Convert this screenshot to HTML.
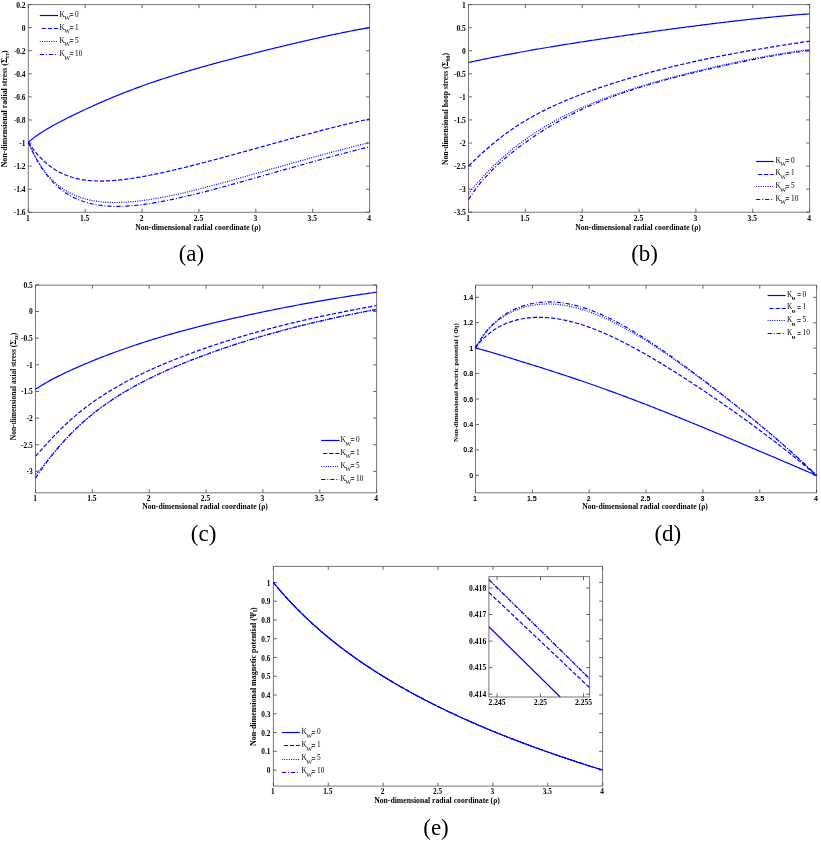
<!DOCTYPE html><html><head><meta charset="utf-8"><style>html,body{margin:0;padding:0;background:#fff;overflow:hidden;}svg{display:block;will-change:transform;filter:blur(0.3px);}</style></head><body><svg width="821" height="843" viewBox="0 0 821 843">
<rect width="821" height="843" fill="#fff"/>
<rect x="28.3" y="4.6" width="341.3" height="207.7" fill="none" stroke="#777" stroke-width="1"/>
<path d="M28.3,212.3v-3.5M28.3,4.6v3.5M85.18,212.3v-3.5M85.18,4.6v3.5M142.07,212.3v-3.5M142.07,4.6v3.5M198.95,212.3v-3.5M198.95,4.6v3.5M255.83,212.3v-3.5M255.83,4.6v3.5M312.72,212.3v-3.5M312.72,4.6v3.5M369.6,212.3v-3.5M369.6,4.6v3.5M28.3,4.6h3.5M369.6,4.6h-3.5M28.3,27.68h3.5M369.6,27.68h-3.5M28.3,50.76h3.5M369.6,50.76h-3.5M28.3,73.83h3.5M369.6,73.83h-3.5M28.3,96.91h3.5M369.6,96.91h-3.5M28.3,119.99h3.5M369.6,119.99h-3.5M28.3,143.07h3.5M369.6,143.07h-3.5M28.3,166.14h3.5M369.6,166.14h-3.5M28.3,189.22h3.5M369.6,189.22h-3.5M28.3,212.3h3.5M369.6,212.3h-3.5" stroke="#555" stroke-width="0.9" fill="none"/>
<text x="27.8" y="220.7" font-family='"Liberation Serif", serif' font-size="7.5" font-weight="bold" text-anchor="middle" >1</text>
<text x="84.68" y="220.7" font-family='"Liberation Serif", serif' font-size="7.5" font-weight="bold" text-anchor="middle" >1.5</text>
<text x="141.57" y="220.7" font-family='"Liberation Serif", serif' font-size="7.5" font-weight="bold" text-anchor="middle" >2</text>
<text x="198.45" y="220.7" font-family='"Liberation Serif", serif' font-size="7.5" font-weight="bold" text-anchor="middle" >2.5</text>
<text x="255.33" y="220.7" font-family='"Liberation Serif", serif' font-size="7.5" font-weight="bold" text-anchor="middle" >3</text>
<text x="312.22" y="220.7" font-family='"Liberation Serif", serif' font-size="7.5" font-weight="bold" text-anchor="middle" >3.5</text>
<text x="369.1" y="220.7" font-family='"Liberation Serif", serif' font-size="7.5" font-weight="bold" text-anchor="middle" >4</text>
<text x="25.6" y="7.5" font-family='"Liberation Serif", serif' font-size="7.5" font-weight="bold" text-anchor="end" >0.2</text>
<text x="25.6" y="30.58" font-family='"Liberation Serif", serif' font-size="7.5" font-weight="bold" text-anchor="end" >0</text>
<text x="25.6" y="53.66" font-family='"Liberation Serif", serif' font-size="7.5" font-weight="bold" text-anchor="end" >-0.2</text>
<text x="25.6" y="76.73" font-family='"Liberation Serif", serif' font-size="7.5" font-weight="bold" text-anchor="end" >-0.4</text>
<text x="25.6" y="99.81" font-family='"Liberation Serif", serif' font-size="7.5" font-weight="bold" text-anchor="end" >-0.6</text>
<text x="25.6" y="122.89" font-family='"Liberation Serif", serif' font-size="7.5" font-weight="bold" text-anchor="end" >-0.8</text>
<text x="25.6" y="145.97" font-family='"Liberation Serif", serif' font-size="7.5" font-weight="bold" text-anchor="end" >-1</text>
<text x="25.6" y="169.04" font-family='"Liberation Serif", serif' font-size="7.5" font-weight="bold" text-anchor="end" >-1.2</text>
<text x="25.6" y="192.12" font-family='"Liberation Serif", serif' font-size="7.5" font-weight="bold" text-anchor="end" >-1.4</text>
<text x="25.6" y="215.2" font-family='"Liberation Serif", serif' font-size="7.5" font-weight="bold" text-anchor="end" >-1.6</text>
<text x="198" y="229.9" font-family='"Liberation Serif", serif' font-size="7.7" font-weight="bold" text-anchor="middle" >Non-dimensional radial coordinate (ρ)</text>
<text transform="translate(7.3,108.9) rotate(-90)" font-family='"Liberation Serif", serif' font-size="7.85" font-weight="bold" text-anchor="middle">Non-dimensional radial stress (Σ<tspan font-size="5.5" dy="1.8">rr</tspan><tspan dy="-1.8">)</tspan></text>
<path d="M28.4,142.3 L29.83,141.05 L31.26,139.86 L32.68,138.72 L34.11,137.62 L35.54,136.56 L36.97,135.53 L38.39,134.54 L39.82,133.57 L41.25,132.64 L42.68,131.72 L44.1,130.83 L45.53,129.95 L46.96,129.1 L48.39,128.26 L49.81,127.43 L51.24,126.62 L52.67,125.82 L54.1,125.03 L55.52,124.25 L56.95,123.48 L58.38,122.72 L59.81,121.96 L61.24,121.22 L62.66,120.48 L64.09,119.74 L65.52,119.02 L66.95,118.3 L68.37,117.58 L69.8,116.87 L71.23,116.16 L72.66,115.46 L74.08,114.76 L75.51,114.07 L76.94,113.38 L78.37,112.7 L79.79,112.02 L81.22,111.34 L82.65,110.67 L84.08,110 L85.5,109.33 L86.93,108.67 L88.36,108.01 L89.79,107.36 L91.22,106.71 L92.64,106.06 L94.07,105.42 L95.5,104.78 L96.93,104.15 L98.35,103.52 L99.78,102.89 L101.21,102.26 L102.64,101.64 L104.06,101.03 L105.49,100.41 L106.92,99.81 L108.35,99.2 L109.77,98.6 L111.2,98 L112.63,97.41 L114.06,96.82 L115.48,96.23 L116.91,95.65 L118.34,95.07 L119.77,94.5 L121.19,93.93 L122.62,93.36 L124.05,92.8 L125.48,92.24 L126.91,91.68 L128.33,91.13 L129.76,90.58 L131.19,90.04 L132.62,89.5 L134.04,88.96 L135.47,88.43 L136.9,87.9 L138.33,87.37 L139.75,86.85 L141.18,86.33 L142.61,85.81 L144.04,85.3 L145.46,84.79 L146.89,84.29 L148.32,83.79 L149.75,83.29 L151.17,82.8 L152.6,82.3 L154.03,81.82 L155.46,81.33 L156.89,80.85 L158.31,80.37 L159.74,79.9 L161.17,79.42 L162.6,78.95 L164.02,78.49 L165.45,78.02 L166.88,77.56 L168.31,77.11 L169.73,76.65 L171.16,76.2 L172.59,75.75 L174.02,75.3 L175.44,74.86 L176.87,74.42 L178.3,73.98 L179.73,73.54 L181.15,73.11 L182.58,72.68 L184.01,72.25 L185.44,71.82 L186.87,71.4 L188.29,70.97 L189.72,70.55 L191.15,70.13 L192.58,69.72 L194,69.3 L195.43,68.89 L196.86,68.48 L198.29,68.07 L199.71,67.67 L201.14,67.26 L202.57,66.86 L204,66.46 L205.42,66.06 L206.85,65.66 L208.28,65.26 L209.71,64.87 L211.13,64.48 L212.56,64.08 L213.99,63.69 L215.42,63.31 L216.85,62.92 L218.27,62.53 L219.7,62.15 L221.13,61.76 L222.56,61.38 L223.98,61 L225.41,60.62 L226.84,60.24 L228.27,59.87 L229.69,59.49 L231.12,59.12 L232.55,58.74 L233.98,58.37 L235.4,58 L236.83,57.63 L238.26,57.26 L239.69,56.89 L241.11,56.52 L242.54,56.15 L243.97,55.79 L245.4,55.42 L246.83,55.06 L248.25,54.69 L249.68,54.33 L251.11,53.97 L252.54,53.61 L253.96,53.25 L255.39,52.89 L256.82,52.53 L258.25,52.17 L259.67,51.82 L261.1,51.46 L262.53,51.1 L263.96,50.75 L265.38,50.4 L266.81,50.04 L268.24,49.69 L269.67,49.34 L271.09,48.99 L272.52,48.64 L273.95,48.29 L275.38,47.94 L276.81,47.59 L278.23,47.24 L279.66,46.9 L281.09,46.55 L282.52,46.21 L283.94,45.86 L285.37,45.52 L286.8,45.18 L288.23,44.84 L289.65,44.5 L291.08,44.16 L292.51,43.82 L293.94,43.48 L295.36,43.14 L296.79,42.8 L298.22,42.47 L299.65,42.14 L301.07,41.8 L302.5,41.47 L303.93,41.14 L305.36,40.81 L306.78,40.48 L308.21,40.15 L309.64,39.82 L311.07,39.5 L312.5,39.17 L313.92,38.85 L315.35,38.53 L316.78,38.21 L318.21,37.89 L319.63,37.57 L321.06,37.25 L322.49,36.94 L323.92,36.62 L325.34,36.31 L326.77,36 L328.2,35.69 L329.63,35.38 L331.05,35.08 L332.48,34.77 L333.91,34.47 L335.34,34.17 L336.76,33.87 L338.19,33.57 L339.62,33.28 L341.05,32.98 L342.48,32.69 L343.9,32.4 L345.33,32.11 L346.76,31.83 L348.19,31.55 L349.61,31.27 L351.04,30.99 L352.47,30.71 L353.9,30.44 L355.32,30.17 L356.75,29.9 L358.18,29.63 L359.61,29.37 L361.03,29.11 L362.46,28.85 L363.89,28.59 L365.32,28.34 L366.74,28.09 L368.17,27.84 L369.6,27.6" fill="none" stroke="#0000ff" stroke-width="1.2"  stroke-linejoin="round"/>
<path d="M28.4,142.3 L29.83,144.43 L31.26,146.47 L32.68,148.42 L34.11,150.29 L35.54,152.07 L36.97,153.78 L38.39,155.41 L39.82,156.97 L41.25,158.45 L42.68,159.87 L44.1,161.22 L45.53,162.51 L46.96,163.74 L48.39,164.9 L49.81,166.01 L51.24,167.07 L52.67,168.07 L54.1,169.02 L55.52,169.92 L56.95,170.78 L58.38,171.58 L59.81,172.35 L61.24,173.07 L62.66,173.75 L64.09,174.39 L65.52,174.99 L66.95,175.56 L68.37,176.09 L69.8,176.59 L71.23,177.05 L72.66,177.49 L74.08,177.89 L75.51,178.26 L76.94,178.61 L78.37,178.93 L79.79,179.22 L81.22,179.49 L82.65,179.73 L84.08,179.95 L85.5,180.15 L86.93,180.33 L88.36,180.48 L89.79,180.62 L91.22,180.73 L92.64,180.83 L94.07,180.91 L95.5,180.98 L96.93,181.02 L98.35,181.05 L99.78,181.07 L101.21,181.07 L102.64,181.06 L104.06,181.03 L105.49,180.99 L106.92,180.94 L108.35,180.87 L109.77,180.8 L111.2,180.71 L112.63,180.61 L114.06,180.5 L115.48,180.38 L116.91,180.25 L118.34,180.11 L119.77,179.96 L121.19,179.81 L122.62,179.64 L124.05,179.47 L125.48,179.29 L126.91,179.1 L128.33,178.9 L129.76,178.7 L131.19,178.49 L132.62,178.27 L134.04,178.05 L135.47,177.82 L136.9,177.59 L138.33,177.35 L139.75,177.1 L141.18,176.85 L142.61,176.59 L144.04,176.33 L145.46,176.07 L146.89,175.8 L148.32,175.52 L149.75,175.24 L151.17,174.96 L152.6,174.67 L154.03,174.38 L155.46,174.09 L156.89,173.79 L158.31,173.49 L159.74,173.18 L161.17,172.87 L162.6,172.56 L164.02,172.25 L165.45,171.93 L166.88,171.61 L168.31,171.29 L169.73,170.96 L171.16,170.63 L172.59,170.3 L174.02,169.97 L175.44,169.63 L176.87,169.29 L178.3,168.95 L179.73,168.61 L181.15,168.27 L182.58,167.92 L184.01,167.57 L185.44,167.22 L186.87,166.87 L188.29,166.51 L189.72,166.16 L191.15,165.8 L192.58,165.44 L194,165.08 L195.43,164.71 L196.86,164.35 L198.29,163.99 L199.71,163.62 L201.14,163.25 L202.57,162.88 L204,162.51 L205.42,162.14 L206.85,161.76 L208.28,161.39 L209.71,161.01 L211.13,160.64 L212.56,160.26 L213.99,159.88 L215.42,159.5 L216.85,159.12 L218.27,158.73 L219.7,158.35 L221.13,157.97 L222.56,157.58 L223.98,157.2 L225.41,156.81 L226.84,156.42 L228.27,156.03 L229.69,155.65 L231.12,155.26 L232.55,154.87 L233.98,154.48 L235.4,154.08 L236.83,153.69 L238.26,153.3 L239.69,152.91 L241.11,152.51 L242.54,152.12 L243.97,151.72 L245.4,151.33 L246.83,150.93 L248.25,150.54 L249.68,150.14 L251.11,149.75 L252.54,149.35 L253.96,148.95 L255.39,148.56 L256.82,148.16 L258.25,147.76 L259.67,147.36 L261.1,146.97 L262.53,146.57 L263.96,146.17 L265.38,145.77 L266.81,145.37 L268.24,144.98 L269.67,144.58 L271.09,144.18 L272.52,143.78 L273.95,143.39 L275.38,142.99 L276.81,142.59 L278.23,142.2 L279.66,141.8 L281.09,141.4 L282.52,141.01 L283.94,140.61 L285.37,140.22 L286.8,139.82 L288.23,139.43 L289.65,139.03 L291.08,138.64 L292.51,138.25 L293.94,137.86 L295.36,137.46 L296.79,137.07 L298.22,136.68 L299.65,136.29 L301.07,135.91 L302.5,135.52 L303.93,135.13 L305.36,134.75 L306.78,134.36 L308.21,133.98 L309.64,133.59 L311.07,133.21 L312.5,132.83 L313.92,132.45 L315.35,132.07 L316.78,131.7 L318.21,131.32 L319.63,130.94 L321.06,130.57 L322.49,130.2 L323.92,129.83 L325.34,129.46 L326.77,129.09 L328.2,128.73 L329.63,128.36 L331.05,128 L332.48,127.64 L333.91,127.28 L335.34,126.92 L336.76,126.56 L338.19,126.21 L339.62,125.86 L341.05,125.51 L342.48,125.16 L343.9,124.81 L345.33,124.47 L346.76,124.13 L348.19,123.79 L349.61,123.45 L351.04,123.12 L352.47,122.78 L353.9,122.45 L355.32,122.13 L356.75,121.8 L358.18,121.48 L359.61,121.16 L361.03,120.84 L362.46,120.53 L363.89,120.22 L365.32,119.91 L366.74,119.6 L368.17,119.3 L369.6,119" fill="none" stroke="#0000ff" stroke-width="1.2" stroke-dasharray="4.2 1.9" stroke-linejoin="round"/>
<path d="M28.4,142.3 L29.83,145.57 L31.26,148.67 L32.68,151.62 L34.11,154.41 L35.54,157.07 L36.97,159.59 L38.39,161.99 L39.82,164.26 L41.25,166.42 L42.68,168.48 L44.1,170.43 L45.53,172.29 L46.96,174.06 L48.39,175.73 L49.81,177.33 L51.24,178.85 L52.67,180.29 L54.1,181.66 L55.52,182.97 L56.95,184.2 L58.38,185.38 L59.81,186.5 L61.24,187.56 L62.66,188.57 L64.09,189.53 L65.52,190.43 L66.95,191.29 L68.37,192.11 L69.8,192.88 L71.23,193.61 L72.66,194.31 L74.08,194.96 L75.51,195.58 L76.94,196.16 L78.37,196.71 L79.79,197.23 L81.22,197.71 L82.65,198.17 L84.08,198.6 L85.5,199 L86.93,199.37 L88.36,199.72 L89.79,200.04 L91.22,200.34 L92.64,200.62 L94.07,200.87 L95.5,201.11 L96.93,201.32 L98.35,201.51 L99.78,201.69 L101.21,201.84 L102.64,201.98 L104.06,202.1 L105.49,202.21 L106.92,202.3 L108.35,202.37 L109.77,202.43 L111.2,202.47 L112.63,202.5 L114.06,202.51 L115.48,202.52 L116.91,202.51 L118.34,202.48 L119.77,202.45 L121.19,202.4 L122.62,202.34 L124.05,202.27 L125.48,202.19 L126.91,202.1 L128.33,202 L129.76,201.89 L131.19,201.77 L132.62,201.65 L134.04,201.51 L135.47,201.36 L136.9,201.21 L138.33,201.05 L139.75,200.88 L141.18,200.7 L142.61,200.51 L144.04,200.32 L145.46,200.12 L146.89,199.91 L148.32,199.7 L149.75,199.48 L151.17,199.25 L152.6,199.02 L154.03,198.78 L155.46,198.54 L156.89,198.29 L158.31,198.04 L159.74,197.78 L161.17,197.51 L162.6,197.24 L164.02,196.97 L165.45,196.69 L166.88,196.4 L168.31,196.11 L169.73,195.82 L171.16,195.52 L172.59,195.22 L174.02,194.92 L175.44,194.61 L176.87,194.29 L178.3,193.98 L179.73,193.66 L181.15,193.33 L182.58,193 L184.01,192.67 L185.44,192.34 L186.87,192 L188.29,191.66 L189.72,191.32 L191.15,190.98 L192.58,190.63 L194,190.28 L195.43,189.92 L196.86,189.57 L198.29,189.21 L199.71,188.85 L201.14,188.49 L202.57,188.12 L204,187.75 L205.42,187.39 L206.85,187.01 L208.28,186.64 L209.71,186.27 L211.13,185.89 L212.56,185.51 L213.99,185.13 L215.42,184.75 L216.85,184.37 L218.27,183.98 L219.7,183.6 L221.13,183.21 L222.56,182.82 L223.98,182.43 L225.41,182.04 L226.84,181.65 L228.27,181.25 L229.69,180.86 L231.12,180.46 L232.55,180.07 L233.98,179.67 L235.4,179.27 L236.83,178.87 L238.26,178.47 L239.69,178.07 L241.11,177.67 L242.54,177.27 L243.97,176.87 L245.4,176.46 L246.83,176.06 L248.25,175.66 L249.68,175.25 L251.11,174.85 L252.54,174.44 L253.96,174.04 L255.39,173.63 L256.82,173.22 L258.25,172.82 L259.67,172.41 L261.1,172 L262.53,171.6 L263.96,171.19 L265.38,170.78 L266.81,170.38 L268.24,169.97 L269.67,169.56 L271.09,169.16 L272.52,168.75 L273.95,168.34 L275.38,167.93 L276.81,167.53 L278.23,167.12 L279.66,166.72 L281.09,166.31 L282.52,165.9 L283.94,165.5 L285.37,165.09 L286.8,164.69 L288.23,164.29 L289.65,163.88 L291.08,163.48 L292.51,163.08 L293.94,162.67 L295.36,162.27 L296.79,161.87 L298.22,161.47 L299.65,161.07 L301.07,160.67 L302.5,160.27 L303.93,159.87 L305.36,159.47 L306.78,159.08 L308.21,158.68 L309.64,158.28 L311.07,157.89 L312.5,157.5 L313.92,157.1 L315.35,156.71 L316.78,156.32 L318.21,155.93 L319.63,155.54 L321.06,155.15 L322.49,154.76 L323.92,154.37 L325.34,153.98 L326.77,153.6 L328.2,153.21 L329.63,152.83 L331.05,152.44 L332.48,152.06 L333.91,151.68 L335.34,151.3 L336.76,150.92 L338.19,150.54 L339.62,150.16 L341.05,149.79 L342.48,149.41 L343.9,149.04 L345.33,148.67 L346.76,148.29 L348.19,147.92 L349.61,147.55 L351.04,147.18 L352.47,146.82 L353.9,146.45 L355.32,146.09 L356.75,145.72 L358.18,145.36 L359.61,145 L361.03,144.64 L362.46,144.28 L363.89,143.92 L365.32,143.56 L366.74,143.21 L368.17,142.85 L369.6,142.5" fill="none" stroke="#0000ff" stroke-width="1.2" stroke-dasharray="1 1.3" stroke-linejoin="round"/>
<path d="M28.4,142.3 L29.83,145.64 L31.26,148.82 L32.68,151.85 L34.11,154.74 L35.54,157.48 L36.97,160.1 L38.39,162.59 L39.82,164.96 L41.25,167.22 L42.68,169.38 L44.1,171.43 L45.53,173.39 L46.96,175.25 L48.39,177.03 L49.81,178.72 L51.24,180.34 L52.67,181.87 L54.1,183.34 L55.52,184.73 L56.95,186.06 L58.38,187.33 L59.81,188.53 L61.24,189.68 L62.66,190.76 L64.09,191.8 L65.52,192.79 L66.95,193.72 L68.37,194.61 L69.8,195.45 L71.23,196.25 L72.66,197.01 L74.08,197.73 L75.51,198.41 L76.94,199.05 L78.37,199.66 L79.79,200.23 L81.22,200.77 L82.65,201.28 L84.08,201.75 L85.5,202.2 L86.93,202.62 L88.36,203.01 L89.79,203.38 L91.22,203.72 L92.64,204.03 L94.07,204.33 L95.5,204.6 L96.93,204.84 L98.35,205.07 L99.78,205.27 L101.21,205.46 L102.64,205.63 L104.06,205.77 L105.49,205.9 L106.92,206.02 L108.35,206.11 L109.77,206.19 L111.2,206.26 L112.63,206.31 L114.06,206.34 L115.48,206.36 L116.91,206.37 L118.34,206.36 L119.77,206.34 L121.19,206.31 L122.62,206.26 L124.05,206.21 L125.48,206.14 L126.91,206.06 L128.33,205.97 L129.76,205.87 L131.19,205.76 L132.62,205.64 L134.04,205.52 L135.47,205.38 L136.9,205.23 L138.33,205.08 L139.75,204.91 L141.18,204.74 L142.61,204.56 L144.04,204.38 L145.46,204.18 L146.89,203.98 L148.32,203.77 L149.75,203.56 L151.17,203.33 L152.6,203.11 L154.03,202.87 L155.46,202.63 L156.89,202.38 L158.31,202.13 L159.74,201.88 L161.17,201.61 L162.6,201.35 L164.02,201.07 L165.45,200.8 L166.88,200.51 L168.31,200.23 L169.73,199.94 L171.16,199.64 L172.59,199.34 L174.02,199.04 L175.44,198.73 L176.87,198.42 L178.3,198.1 L179.73,197.78 L181.15,197.46 L182.58,197.14 L184.01,196.81 L185.44,196.47 L186.87,196.14 L188.29,195.8 L189.72,195.46 L191.15,195.12 L192.58,194.77 L194,194.42 L195.43,194.07 L196.86,193.72 L198.29,193.36 L199.71,193 L201.14,192.64 L202.57,192.28 L204,191.91 L205.42,191.55 L206.85,191.18 L208.28,190.81 L209.71,190.43 L211.13,190.06 L212.56,189.68 L213.99,189.3 L215.42,188.93 L216.85,188.55 L218.27,188.16 L219.7,187.78 L221.13,187.39 L222.56,187.01 L223.98,186.62 L225.41,186.23 L226.84,185.84 L228.27,185.45 L229.69,185.06 L231.12,184.67 L232.55,184.28 L233.98,183.88 L235.4,183.49 L236.83,183.09 L238.26,182.69 L239.69,182.3 L241.11,181.9 L242.54,181.5 L243.97,181.1 L245.4,180.7 L246.83,180.3 L248.25,179.9 L249.68,179.5 L251.11,179.09 L252.54,178.69 L253.96,178.29 L255.39,177.89 L256.82,177.48 L258.25,177.08 L259.67,176.68 L261.1,176.27 L262.53,175.87 L263.96,175.47 L265.38,175.06 L266.81,174.66 L268.24,174.25 L269.67,173.85 L271.09,173.45 L272.52,173.04 L273.95,172.64 L275.38,172.23 L276.81,171.83 L278.23,171.43 L279.66,171.02 L281.09,170.62 L282.52,170.22 L283.94,169.81 L285.37,169.41 L286.8,169.01 L288.23,168.61 L289.65,168.2 L291.08,167.8 L292.51,167.4 L293.94,167 L295.36,166.6 L296.79,166.2 L298.22,165.8 L299.65,165.4 L301.07,165 L302.5,164.61 L303.93,164.21 L305.36,163.81 L306.78,163.41 L308.21,163.02 L309.64,162.62 L311.07,162.23 L312.5,161.83 L313.92,161.44 L315.35,161.05 L316.78,160.66 L318.21,160.26 L319.63,159.87 L321.06,159.48 L322.49,159.09 L323.92,158.7 L325.34,158.32 L326.77,157.93 L328.2,157.54 L329.63,157.16 L331.05,156.77 L332.48,156.39 L333.91,156 L335.34,155.62 L336.76,155.24 L338.19,154.86 L339.62,154.48 L341.05,154.1 L342.48,153.72 L343.9,153.34 L345.33,152.96 L346.76,152.59 L348.19,152.21 L349.61,151.84 L351.04,151.46 L352.47,151.09 L353.9,150.72 L355.32,150.35 L356.75,149.98 L358.18,149.61 L359.61,149.24 L361.03,148.88 L362.46,148.51 L363.89,148.15 L365.32,147.78 L366.74,147.42 L368.17,147.06 L369.6,146.7" fill="none" stroke="#0000ff" stroke-width="1.2" stroke-dasharray="4.2 1.9 1 1.9" stroke-linejoin="round"/>
<path d="M39.8,15.5H58.1" stroke="#0000ff" stroke-width="1.2"  fill="none"/>
<text font-family='"Liberation Serif", serif' font-size="7.3" y="16.7"><tspan x="59.6">K</tspan><tspan x="64.3" dy="3.6" font-size="6.2" font-weight="normal">W</tspan><tspan x="75.1" dy="-3.6">0</tspan></text>
<path d="M69.8,13.5h3.5M69.8,15.5h3.5" stroke="#222" stroke-width="0.8" fill="none"/>
<path d="M39.8,28.5H58.1" stroke="#0000ff" stroke-width="1.2" stroke-dasharray="4.2 1.9" stroke-dashoffset="4.2" fill="none"/>
<text font-family='"Liberation Serif", serif' font-size="7.3" y="29.77"><tspan x="59.6">K</tspan><tspan x="64.3" dy="3.6" font-size="6.2" font-weight="normal">W</tspan><tspan x="75.1" dy="-3.6">1</tspan></text>
<path d="M69.8,26.5h3.5M69.8,28.5h3.5" stroke="#222" stroke-width="0.8" fill="none"/>
<path d="M39.8,41.5H58.1" stroke="#0000ff" stroke-width="1.2" stroke-dasharray="1 1.3" fill="none"/>
<text font-family='"Liberation Serif", serif' font-size="7.3" y="42.84"><tspan x="59.6">K</tspan><tspan x="64.3" dy="3.6" font-size="6.2" font-weight="normal">W</tspan><tspan x="75.1" dy="-3.6">5</tspan></text>
<path d="M69.8,39.5h3.5M69.8,41.5h3.5" stroke="#222" stroke-width="0.8" fill="none"/>
<path d="M39.8,54.5H58.1" stroke="#0000ff" stroke-width="1.2" stroke-dasharray="4.2 1.9 1 1.9" fill="none"/>
<text font-family='"Liberation Serif", serif' font-size="7.3" y="55.91"><tspan x="59.6">K</tspan><tspan x="64.3" dy="3.6" font-size="6.2" font-weight="normal">W</tspan><tspan x="75.1" dy="-3.6">10</tspan></text>
<path d="M69.8,52.5h3.5M69.8,54.5h3.5" stroke="#222" stroke-width="0.8" fill="none"/>
<text x="191.45" y="261" font-family='"Liberation Serif", serif' font-size="23" font-weight="normal" text-anchor="middle" >(a)</text>
<rect x="468.5" y="4.6" width="341.1" height="207.6" fill="none" stroke="#777" stroke-width="1"/>
<path d="M468.5,212.2v-3.5M468.5,4.6v3.5M525.35,212.2v-3.5M525.35,4.6v3.5M582.2,212.2v-3.5M582.2,4.6v3.5M639.05,212.2v-3.5M639.05,4.6v3.5M695.9,212.2v-3.5M695.9,4.6v3.5M752.75,212.2v-3.5M752.75,4.6v3.5M809.6,212.2v-3.5M809.6,4.6v3.5M468.5,4.6h3.5M809.6,4.6h-3.5M468.5,27.67h3.5M809.6,27.67h-3.5M468.5,50.73h3.5M809.6,50.73h-3.5M468.5,73.8h3.5M809.6,73.8h-3.5M468.5,96.87h3.5M809.6,96.87h-3.5M468.5,119.93h3.5M809.6,119.93h-3.5M468.5,143h3.5M809.6,143h-3.5M468.5,166.07h3.5M809.6,166.07h-3.5M468.5,189.13h3.5M809.6,189.13h-3.5M468.5,212.2h3.5M809.6,212.2h-3.5" stroke="#555" stroke-width="0.9" fill="none"/>
<text x="468" y="220.7" font-family='"Liberation Serif", serif' font-size="7.5" font-weight="bold" text-anchor="middle" >1</text>
<text x="524.85" y="220.7" font-family='"Liberation Serif", serif' font-size="7.5" font-weight="bold" text-anchor="middle" >1.5</text>
<text x="581.7" y="220.7" font-family='"Liberation Serif", serif' font-size="7.5" font-weight="bold" text-anchor="middle" >2</text>
<text x="638.55" y="220.7" font-family='"Liberation Serif", serif' font-size="7.5" font-weight="bold" text-anchor="middle" >2.5</text>
<text x="695.4" y="220.7" font-family='"Liberation Serif", serif' font-size="7.5" font-weight="bold" text-anchor="middle" >3</text>
<text x="752.25" y="220.7" font-family='"Liberation Serif", serif' font-size="7.5" font-weight="bold" text-anchor="middle" >3.5</text>
<text x="809.1" y="220.7" font-family='"Liberation Serif", serif' font-size="7.5" font-weight="bold" text-anchor="middle" >4</text>
<text x="465.8" y="7.5" font-family='"Liberation Serif", serif' font-size="7.5" font-weight="bold" text-anchor="end" >1</text>
<text x="465.8" y="30.57" font-family='"Liberation Serif", serif' font-size="7.5" font-weight="bold" text-anchor="end" >0.5</text>
<text x="465.8" y="53.63" font-family='"Liberation Serif", serif' font-size="7.5" font-weight="bold" text-anchor="end" >0</text>
<text x="465.8" y="76.7" font-family='"Liberation Serif", serif' font-size="7.5" font-weight="bold" text-anchor="end" >-0.5</text>
<text x="465.8" y="99.77" font-family='"Liberation Serif", serif' font-size="7.5" font-weight="bold" text-anchor="end" >-1</text>
<text x="465.8" y="122.83" font-family='"Liberation Serif", serif' font-size="7.5" font-weight="bold" text-anchor="end" >-1.5</text>
<text x="465.8" y="145.9" font-family='"Liberation Serif", serif' font-size="7.5" font-weight="bold" text-anchor="end" >-2</text>
<text x="465.8" y="168.97" font-family='"Liberation Serif", serif' font-size="7.5" font-weight="bold" text-anchor="end" >-2.5</text>
<text x="465.8" y="192.03" font-family='"Liberation Serif", serif' font-size="7.5" font-weight="bold" text-anchor="end" >-3</text>
<text x="465.8" y="215.1" font-family='"Liberation Serif", serif' font-size="7.5" font-weight="bold" text-anchor="end" >-3.5</text>
<text x="638" y="229.8" font-family='"Liberation Serif", serif' font-size="7.7" font-weight="bold" text-anchor="middle" >Non-dimensional radial coordinate (ρ)</text>
<text transform="translate(448.3,109) rotate(-90)" font-family='"Liberation Serif", serif' font-size="7.7" font-weight="bold" text-anchor="middle">Non-dimensional hoop stress (Σ<tspan font-size="5.5" dy="1.8">θθ</tspan><tspan dy="-1.8">)</tspan></text>
<path d="M468.6,62.5 L470.03,62.18 L471.45,61.87 L472.88,61.56 L474.31,61.25 L475.73,60.94 L477.16,60.64 L478.59,60.34 L480.01,60.04 L481.44,59.74 L482.87,59.45 L484.29,59.15 L485.72,58.86 L487.15,58.57 L488.57,58.28 L490,58 L491.43,57.71 L492.86,57.43 L494.28,57.14 L495.71,56.86 L497.14,56.58 L498.56,56.3 L499.99,56.02 L501.42,55.75 L502.84,55.47 L504.27,55.2 L505.7,54.93 L507.12,54.65 L508.55,54.38 L509.98,54.12 L511.4,53.85 L512.83,53.58 L514.26,53.31 L515.68,53.05 L517.11,52.79 L518.54,52.52 L519.96,52.26 L521.39,52 L522.82,51.74 L524.24,51.49 L525.67,51.23 L527.1,50.97 L528.52,50.72 L529.95,50.47 L531.38,50.21 L532.81,49.96 L534.23,49.71 L535.66,49.46 L537.09,49.21 L538.51,48.97 L539.94,48.72 L541.37,48.48 L542.79,48.23 L544.22,47.99 L545.65,47.75 L547.07,47.51 L548.5,47.27 L549.93,47.03 L551.35,46.79 L552.78,46.55 L554.21,46.31 L555.63,46.08 L557.06,45.84 L558.49,45.61 L559.91,45.38 L561.34,45.14 L562.77,44.91 L564.19,44.68 L565.62,44.45 L567.05,44.22 L568.47,44 L569.9,43.77 L571.33,43.54 L572.75,43.32 L574.18,43.09 L575.61,42.87 L577.04,42.64 L578.46,42.42 L579.89,42.2 L581.32,41.98 L582.74,41.76 L584.17,41.54 L585.6,41.32 L587.02,41.1 L588.45,40.88 L589.88,40.66 L591.3,40.44 L592.73,40.23 L594.16,40.01 L595.58,39.8 L597.01,39.58 L598.44,39.37 L599.86,39.16 L601.29,38.94 L602.72,38.73 L604.14,38.52 L605.57,38.31 L607,38.1 L608.42,37.89 L609.85,37.68 L611.28,37.47 L612.7,37.26 L614.13,37.05 L615.56,36.84 L616.98,36.64 L618.41,36.43 L619.84,36.22 L621.27,36.02 L622.69,35.81 L624.12,35.61 L625.55,35.4 L626.97,35.2 L628.4,34.99 L629.83,34.79 L631.25,34.59 L632.68,34.39 L634.11,34.18 L635.53,33.98 L636.96,33.78 L638.39,33.58 L639.81,33.38 L641.24,33.18 L642.67,32.98 L644.09,32.78 L645.52,32.58 L646.95,32.38 L648.37,32.18 L649.8,31.99 L651.23,31.79 L652.65,31.59 L654.08,31.4 L655.51,31.2 L656.93,31 L658.36,30.81 L659.79,30.61 L661.22,30.42 L662.64,30.22 L664.07,30.03 L665.5,29.84 L666.92,29.64 L668.35,29.45 L669.78,29.26 L671.2,29.07 L672.63,28.88 L674.06,28.69 L675.48,28.49 L676.91,28.3 L678.34,28.11 L679.76,27.93 L681.19,27.74 L682.62,27.55 L684.04,27.36 L685.47,27.17 L686.9,26.99 L688.32,26.8 L689.75,26.61 L691.18,26.43 L692.6,26.24 L694.03,26.06 L695.46,25.87 L696.88,25.69 L698.31,25.51 L699.74,25.33 L701.16,25.14 L702.59,24.96 L704.02,24.78 L705.45,24.6 L706.87,24.42 L708.3,24.24 L709.73,24.07 L711.15,23.89 L712.58,23.71 L714.01,23.53 L715.43,23.36 L716.86,23.18 L718.29,23.01 L719.71,22.83 L721.14,22.66 L722.57,22.49 L723.99,22.32 L725.42,22.15 L726.85,21.98 L728.27,21.81 L729.7,21.64 L731.13,21.47 L732.55,21.3 L733.98,21.14 L735.41,20.97 L736.83,20.81 L738.26,20.64 L739.69,20.48 L741.11,20.32 L742.54,20.16 L743.97,20 L745.39,19.84 L746.82,19.68 L748.25,19.52 L749.68,19.36 L751.1,19.21 L752.53,19.05 L753.96,18.9 L755.38,18.75 L756.81,18.6 L758.24,18.45 L759.66,18.3 L761.09,18.15 L762.52,18 L763.94,17.86 L765.37,17.71 L766.8,17.57 L768.22,17.42 L769.65,17.28 L771.08,17.14 L772.5,17 L773.93,16.87 L775.36,16.73 L776.78,16.6 L778.21,16.46 L779.64,16.33 L781.06,16.2 L782.49,16.07 L783.92,15.94 L785.34,15.82 L786.77,15.69 L788.2,15.57 L789.63,15.44 L791.05,15.32 L792.48,15.2 L793.91,15.09 L795.33,14.97 L796.76,14.86 L798.19,14.74 L799.61,14.63 L801.04,14.52 L802.47,14.41 L803.89,14.31 L805.32,14.2 L806.75,14.1 L808.17,14 L809.6,13.9" fill="none" stroke="#0000ff" stroke-width="1.2"  stroke-linejoin="round"/>
<path d="M468.6,165.8 L470.03,164.47 L471.45,163.14 L472.88,161.8 L474.31,160.47 L475.73,159.13 L477.16,157.8 L478.59,156.47 L480.01,155.15 L481.44,153.84 L482.87,152.55 L484.29,151.26 L485.72,149.98 L487.15,148.72 L488.57,147.48 L490,146.24 L491.43,145.03 L492.86,143.82 L494.28,142.64 L495.71,141.47 L497.14,140.32 L498.56,139.18 L499.99,138.06 L501.42,136.95 L502.84,135.86 L504.27,134.79 L505.7,133.74 L507.12,132.7 L508.55,131.67 L509.98,130.66 L511.4,129.67 L512.83,128.69 L514.26,127.72 L515.68,126.77 L517.11,125.84 L518.54,124.92 L519.96,124.01 L521.39,123.11 L522.82,122.23 L524.24,121.37 L525.67,120.51 L527.1,119.67 L528.52,118.84 L529.95,118.02 L531.38,117.21 L532.81,116.41 L534.23,115.62 L535.66,114.85 L537.09,114.08 L538.51,113.33 L539.94,112.59 L541.37,111.85 L542.79,111.12 L544.22,110.41 L545.65,109.7 L547.07,109 L548.5,108.31 L549.93,107.63 L551.35,106.95 L552.78,106.29 L554.21,105.63 L555.63,104.98 L557.06,104.33 L558.49,103.7 L559.91,103.07 L561.34,102.44 L562.77,101.83 L564.19,101.22 L565.62,100.61 L567.05,100.02 L568.47,99.42 L569.9,98.84 L571.33,98.26 L572.75,97.68 L574.18,97.11 L575.61,96.55 L577.04,95.99 L578.46,95.44 L579.89,94.89 L581.32,94.34 L582.74,93.8 L584.17,93.27 L585.6,92.74 L587.02,92.21 L588.45,91.69 L589.88,91.17 L591.3,90.66 L592.73,90.15 L594.16,89.64 L595.58,89.14 L597.01,88.64 L598.44,88.15 L599.86,87.66 L601.29,87.17 L602.72,86.69 L604.14,86.21 L605.57,85.73 L607,85.26 L608.42,84.79 L609.85,84.32 L611.28,83.86 L612.7,83.4 L614.13,82.95 L615.56,82.49 L616.98,82.04 L618.41,81.6 L619.84,81.15 L621.27,80.71 L622.69,80.27 L624.12,79.84 L625.55,79.4 L626.97,78.97 L628.4,78.55 L629.83,78.12 L631.25,77.7 L632.68,77.28 L634.11,76.87 L635.53,76.46 L636.96,76.04 L638.39,75.64 L639.81,75.23 L641.24,74.83 L642.67,74.43 L644.09,74.03 L645.52,73.64 L646.95,73.24 L648.37,72.85 L649.8,72.47 L651.23,72.08 L652.65,71.7 L654.08,71.32 L655.51,70.94 L656.93,70.57 L658.36,70.19 L659.79,69.82 L661.22,69.45 L662.64,69.09 L664.07,68.72 L665.5,68.36 L666.92,68 L668.35,67.65 L669.78,67.29 L671.2,66.94 L672.63,66.59 L674.06,66.24 L675.48,65.9 L676.91,65.56 L678.34,65.21 L679.76,64.88 L681.19,64.54 L682.62,64.21 L684.04,63.87 L685.47,63.54 L686.9,63.22 L688.32,62.89 L689.75,62.57 L691.18,62.24 L692.6,61.92 L694.03,61.61 L695.46,61.29 L696.88,60.98 L698.31,60.67 L699.74,60.36 L701.16,60.05 L702.59,59.75 L704.02,59.44 L705.45,59.14 L706.87,58.84 L708.3,58.55 L709.73,58.25 L711.15,57.96 L712.58,57.66 L714.01,57.37 L715.43,57.09 L716.86,56.8 L718.29,56.52 L719.71,56.23 L721.14,55.95 L722.57,55.67 L723.99,55.4 L725.42,55.12 L726.85,54.85 L728.27,54.58 L729.7,54.31 L731.13,54.04 L732.55,53.77 L733.98,53.51 L735.41,53.24 L736.83,52.98 L738.26,52.72 L739.69,52.46 L741.11,52.2 L742.54,51.95 L743.97,51.69 L745.39,51.44 L746.82,51.19 L748.25,50.94 L749.68,50.69 L751.1,50.44 L752.53,50.2 L753.96,49.95 L755.38,49.71 L756.81,49.47 L758.24,49.22 L759.66,48.98 L761.09,48.75 L762.52,48.51 L763.94,48.27 L765.37,48.04 L766.8,47.8 L768.22,47.57 L769.65,47.34 L771.08,47.1 L772.5,46.87 L773.93,46.64 L775.36,46.42 L776.78,46.19 L778.21,45.96 L779.64,45.73 L781.06,45.51 L782.49,45.28 L783.92,45.06 L785.34,44.84 L786.77,44.61 L788.2,44.39 L789.63,44.17 L791.05,43.95 L792.48,43.73 L793.91,43.51 L795.33,43.29 L796.76,43.07 L798.19,42.85 L799.61,42.63 L801.04,42.41 L802.47,42.19 L803.89,41.97 L805.32,41.75 L806.75,41.54 L808.17,41.32 L809.6,41.1" fill="none" stroke="#0000ff" stroke-width="1.2" stroke-dasharray="4.2 1.9" stroke-linejoin="round"/>
<path d="M468.6,193.6 L470.03,191.8 L471.45,190.03 L472.88,188.29 L474.31,186.58 L475.73,184.9 L477.16,183.25 L478.59,181.62 L480.01,180.02 L481.44,178.44 L482.87,176.89 L484.29,175.36 L485.72,173.86 L487.15,172.37 L488.57,170.91 L490,169.47 L491.43,168.05 L492.86,166.65 L494.28,165.27 L495.71,163.91 L497.14,162.57 L498.56,161.25 L499.99,159.95 L501.42,158.66 L502.84,157.39 L504.27,156.14 L505.7,154.91 L507.12,153.69 L508.55,152.49 L509.98,151.3 L511.4,150.13 L512.83,148.98 L514.26,147.84 L515.68,146.72 L517.11,145.61 L518.54,144.52 L519.96,143.44 L521.39,142.37 L522.82,141.32 L524.24,140.29 L525.67,139.26 L527.1,138.25 L528.52,137.26 L529.95,136.27 L531.38,135.3 L532.81,134.34 L534.23,133.39 L535.66,132.46 L537.09,131.54 L538.51,130.63 L539.94,129.73 L541.37,128.84 L542.79,127.96 L544.22,127.1 L545.65,126.24 L547.07,125.4 L548.5,124.56 L549.93,123.74 L551.35,122.93 L552.78,122.12 L554.21,121.33 L555.63,120.55 L557.06,119.77 L558.49,119.01 L559.91,118.25 L561.34,117.5 L562.77,116.77 L564.19,116.04 L565.62,115.32 L567.05,114.6 L568.47,113.9 L569.9,113.2 L571.33,112.52 L572.75,111.84 L574.18,111.16 L575.61,110.5 L577.04,109.84 L578.46,109.19 L579.89,108.55 L581.32,107.91 L582.74,107.28 L584.17,106.66 L585.6,106.05 L587.02,105.44 L588.45,104.84 L589.88,104.24 L591.3,103.65 L592.73,103.07 L594.16,102.49 L595.58,101.92 L597.01,101.35 L598.44,100.79 L599.86,100.23 L601.29,99.68 L602.72,99.14 L604.14,98.6 L605.57,98.07 L607,97.54 L608.42,97.01 L609.85,96.49 L611.28,95.98 L612.7,95.47 L614.13,94.96 L615.56,94.46 L616.98,93.97 L618.41,93.47 L619.84,92.99 L621.27,92.5 L622.69,92.02 L624.12,91.55 L625.55,91.07 L626.97,90.61 L628.4,90.14 L629.83,89.68 L631.25,89.22 L632.68,88.77 L634.11,88.32 L635.53,87.87 L636.96,87.43 L638.39,86.99 L639.81,86.55 L641.24,86.12 L642.67,85.69 L644.09,85.26 L645.52,84.83 L646.95,84.41 L648.37,83.99 L649.8,83.57 L651.23,83.16 L652.65,82.75 L654.08,82.34 L655.51,81.93 L656.93,81.53 L658.36,81.13 L659.79,80.73 L661.22,80.33 L662.64,79.94 L664.07,79.55 L665.5,79.16 L666.92,78.77 L668.35,78.39 L669.78,78.01 L671.2,77.62 L672.63,77.25 L674.06,76.87 L675.48,76.5 L676.91,76.12 L678.34,75.75 L679.76,75.38 L681.19,75.02 L682.62,74.65 L684.04,74.29 L685.47,73.93 L686.9,73.57 L688.32,73.21 L689.75,72.86 L691.18,72.51 L692.6,72.15 L694.03,71.8 L695.46,71.46 L696.88,71.11 L698.31,70.76 L699.74,70.42 L701.16,70.08 L702.59,69.74 L704.02,69.4 L705.45,69.06 L706.87,68.73 L708.3,68.4 L709.73,68.06 L711.15,67.73 L712.58,67.41 L714.01,67.08 L715.43,66.75 L716.86,66.43 L718.29,66.11 L719.71,65.79 L721.14,65.47 L722.57,65.15 L723.99,64.84 L725.42,64.52 L726.85,64.21 L728.27,63.9 L729.7,63.59 L731.13,63.28 L732.55,62.98 L733.98,62.68 L735.41,62.37 L736.83,62.07 L738.26,61.77 L739.69,61.48 L741.11,61.18 L742.54,60.89 L743.97,60.6 L745.39,60.31 L746.82,60.02 L748.25,59.73 L749.68,59.45 L751.1,59.17 L752.53,58.88 L753.96,58.61 L755.38,58.33 L756.81,58.05 L758.24,57.78 L759.66,57.51 L761.09,57.24 L762.52,56.97 L763.94,56.71 L765.37,56.45 L766.8,56.19 L768.22,55.93 L769.65,55.67 L771.08,55.42 L772.5,55.16 L773.93,54.91 L775.36,54.67 L776.78,54.42 L778.21,54.18 L779.64,53.94 L781.06,53.7 L782.49,53.46 L783.92,53.23 L785.34,53 L786.77,52.77 L788.2,52.55 L789.63,52.32 L791.05,52.1 L792.48,51.89 L793.91,51.67 L795.33,51.46 L796.76,51.25 L798.19,51.04 L799.61,50.84 L801.04,50.64 L802.47,50.44 L803.89,50.25 L805.32,50.06 L806.75,49.87 L808.17,49.68 L809.6,49.5" fill="none" stroke="#0000ff" stroke-width="1.2" stroke-dasharray="1 1.3" stroke-linejoin="round"/>
<path d="M468.6,199.5 L470.03,197.21 L471.45,195.01 L472.88,192.91 L474.31,190.88 L475.73,188.92 L477.16,187.04 L478.59,185.21 L480.01,183.44 L481.44,181.73 L482.87,180.06 L484.29,178.44 L485.72,176.86 L487.15,175.32 L488.57,173.81 L490,172.34 L491.43,170.89 L492.86,169.48 L494.28,168.09 L495.71,166.73 L497.14,165.39 L498.56,164.08 L499.99,162.79 L501.42,161.51 L502.84,160.26 L504.27,159.02 L505.7,157.8 L507.12,156.6 L508.55,155.42 L509.98,154.25 L511.4,153.09 L512.83,151.95 L514.26,150.82 L515.68,149.71 L517.11,148.6 L518.54,147.52 L519.96,146.44 L521.39,145.38 L522.82,144.32 L524.24,143.28 L525.67,142.25 L527.1,141.23 L528.52,140.23 L529.95,139.23 L531.38,138.24 L532.81,137.27 L534.23,136.3 L535.66,135.35 L537.09,134.4 L538.51,133.47 L539.94,132.55 L541.37,131.63 L542.79,130.73 L544.22,129.83 L545.65,128.94 L547.07,128.07 L548.5,127.2 L549.93,126.34 L551.35,125.5 L552.78,124.66 L554.21,123.83 L555.63,123.01 L557.06,122.19 L558.49,121.39 L559.91,120.6 L561.34,119.81 L562.77,119.03 L564.19,118.26 L565.62,117.5 L567.05,116.75 L568.47,116.01 L569.9,115.27 L571.33,114.54 L572.75,113.82 L574.18,113.11 L575.61,112.41 L577.04,111.71 L578.46,111.03 L579.89,110.34 L581.32,109.67 L582.74,109.01 L584.17,108.35 L585.6,107.7 L587.02,107.05 L588.45,106.42 L589.88,105.79 L591.3,105.16 L592.73,104.55 L594.16,103.94 L595.58,103.33 L597.01,102.74 L598.44,102.15 L599.86,101.56 L601.29,100.98 L602.72,100.41 L604.14,99.85 L605.57,99.29 L607,98.73 L608.42,98.18 L609.85,97.64 L611.28,97.1 L612.7,96.57 L614.13,96.04 L615.56,95.52 L616.98,95.01 L618.41,94.5 L619.84,93.99 L621.27,93.49 L622.69,92.99 L624.12,92.5 L625.55,92.01 L626.97,91.53 L628.4,91.05 L629.83,90.58 L631.25,90.11 L632.68,89.65 L634.11,89.19 L635.53,88.73 L636.96,88.28 L638.39,87.83 L639.81,87.38 L641.24,86.94 L642.67,86.5 L644.09,86.07 L645.52,85.63 L646.95,85.21 L648.37,84.78 L649.8,84.36 L651.23,83.94 L652.65,83.53 L654.08,83.12 L655.51,82.71 L656.93,82.3 L658.36,81.9 L659.79,81.5 L661.22,81.1 L662.64,80.71 L664.07,80.32 L665.5,79.93 L666.92,79.54 L668.35,79.15 L669.78,78.77 L671.2,78.39 L672.63,78.01 L674.06,77.64 L675.48,77.27 L676.91,76.9 L678.34,76.53 L679.76,76.16 L681.19,75.79 L682.62,75.43 L684.04,75.07 L685.47,74.71 L686.9,74.36 L688.32,74 L689.75,73.65 L691.18,73.3 L692.6,72.95 L694.03,72.6 L695.46,72.25 L696.88,71.91 L698.31,71.56 L699.74,71.22 L701.16,70.88 L702.59,70.54 L704.02,70.21 L705.45,69.87 L706.87,69.54 L708.3,69.21 L709.73,68.88 L711.15,68.55 L712.58,68.22 L714.01,67.9 L715.43,67.57 L716.86,67.25 L718.29,66.93 L719.71,66.61 L721.14,66.29 L722.57,65.97 L723.99,65.66 L725.42,65.34 L726.85,65.03 L728.27,64.72 L729.7,64.41 L731.13,64.1 L732.55,63.8 L733.98,63.49 L735.41,63.19 L736.83,62.89 L738.26,62.59 L739.69,62.29 L741.11,62 L742.54,61.7 L743.97,61.41 L745.39,61.12 L746.82,60.83 L748.25,60.54 L749.68,60.25 L751.1,59.97 L752.53,59.69 L753.96,59.41 L755.38,59.13 L756.81,58.85 L758.24,58.58 L759.66,58.31 L761.09,58.04 L762.52,57.77 L763.94,57.51 L765.37,57.24 L766.8,56.98 L768.22,56.72 L769.65,56.47 L771.08,56.21 L772.5,55.96 L773.93,55.71 L775.36,55.47 L776.78,55.22 L778.21,54.98 L779.64,54.74 L781.06,54.51 L782.49,54.28 L783.92,54.05 L785.34,53.82 L786.77,53.6 L788.2,53.38 L789.63,53.16 L791.05,52.95 L792.48,52.74 L793.91,52.53 L795.33,52.33 L796.76,52.13 L798.19,51.93 L799.61,51.74 L801.04,51.55 L802.47,51.36 L803.89,51.18 L805.32,51.01 L806.75,50.83 L808.17,50.66 L809.6,50.5" fill="none" stroke="#0000ff" stroke-width="1.2" stroke-dasharray="4.2 1.9 1 1.9" stroke-linejoin="round"/>
<path d="M756.1,161.5H773.7" stroke="#0000ff" stroke-width="1.2"  fill="none"/>
<text font-family='"Liberation Serif", serif' font-size="7.3" y="162.6"><tspan x="775.5">K</tspan><tspan x="780.2" dy="3.6" font-size="6.2" font-weight="normal">W</tspan><tspan x="791" dy="-3.6">0</tspan></text>
<path d="M785.7,159.5h3.5M785.7,161.5h3.5" stroke="#222" stroke-width="0.8" fill="none"/>
<path d="M756.1,174.5H773.7" stroke="#0000ff" stroke-width="1.2" stroke-dasharray="4.2 1.9" stroke-dashoffset="4.2" fill="none"/>
<text font-family='"Liberation Serif", serif' font-size="7.3" y="175.3"><tspan x="775.5">K</tspan><tspan x="780.2" dy="3.6" font-size="6.2" font-weight="normal">W</tspan><tspan x="791" dy="-3.6">1</tspan></text>
<path d="M785.7,172.5h3.5M785.7,174.5h3.5" stroke="#222" stroke-width="0.8" fill="none"/>
<path d="M756.1,186.5H773.7" stroke="#0000ff" stroke-width="1.2" stroke-dasharray="1 1.3" fill="none"/>
<text font-family='"Liberation Serif", serif' font-size="7.3" y="188"><tspan x="775.5">K</tspan><tspan x="780.2" dy="3.6" font-size="6.2" font-weight="normal">W</tspan><tspan x="791" dy="-3.6">5</tspan></text>
<path d="M785.7,185.5h3.5M785.7,187.5h3.5" stroke="#222" stroke-width="0.8" fill="none"/>
<path d="M756.1,199.5H773.7" stroke="#0000ff" stroke-width="1.2" stroke-dasharray="4.2 1.9 1 1.9" fill="none"/>
<text font-family='"Liberation Serif", serif' font-size="7.3" y="200.7"><tspan x="775.5">K</tspan><tspan x="780.2" dy="3.6" font-size="6.2" font-weight="normal">W</tspan><tspan x="791" dy="-3.6">10</tspan></text>
<path d="M785.7,197.5h3.5M785.7,199.5h3.5" stroke="#222" stroke-width="0.8" fill="none"/>
<text x="644.55" y="261" font-family='"Liberation Serif", serif' font-size="23" font-weight="normal" text-anchor="middle" >(b)</text>
<rect x="35.5" y="285.2" width="341.1" height="207.6" fill="none" stroke="#777" stroke-width="1"/>
<path d="M35.5,492.8v-3.5M35.5,285.2v3.5M92.35,492.8v-3.5M92.35,285.2v3.5M149.2,492.8v-3.5M149.2,285.2v3.5M206.05,492.8v-3.5M206.05,285.2v3.5M262.9,492.8v-3.5M262.9,285.2v3.5M319.75,492.8v-3.5M319.75,285.2v3.5M376.6,492.8v-3.5M376.6,285.2v3.5M35.5,284.85h3.5M376.6,284.85h-3.5M35.5,311.5h3.5M376.6,311.5h-3.5M35.5,338.15h3.5M376.6,338.15h-3.5M35.5,364.8h3.5M376.6,364.8h-3.5M35.5,391.45h3.5M376.6,391.45h-3.5M35.5,418.1h3.5M376.6,418.1h-3.5M35.5,444.75h3.5M376.6,444.75h-3.5M35.5,471.4h3.5M376.6,471.4h-3.5" stroke="#555" stroke-width="0.9" fill="none"/>
<text x="35" y="500.7" font-family='"Liberation Serif", serif' font-size="7.5" font-weight="bold" text-anchor="middle" >1</text>
<text x="91.85" y="500.7" font-family='"Liberation Serif", serif' font-size="7.5" font-weight="bold" text-anchor="middle" >1.5</text>
<text x="148.7" y="500.7" font-family='"Liberation Serif", serif' font-size="7.5" font-weight="bold" text-anchor="middle" >2</text>
<text x="205.55" y="500.7" font-family='"Liberation Serif", serif' font-size="7.5" font-weight="bold" text-anchor="middle" >2.5</text>
<text x="262.4" y="500.7" font-family='"Liberation Serif", serif' font-size="7.5" font-weight="bold" text-anchor="middle" >3</text>
<text x="319.25" y="500.7" font-family='"Liberation Serif", serif' font-size="7.5" font-weight="bold" text-anchor="middle" >3.5</text>
<text x="376.1" y="500.7" font-family='"Liberation Serif", serif' font-size="7.5" font-weight="bold" text-anchor="middle" >4</text>
<text x="32.8" y="287.75" font-family='"Liberation Serif", serif' font-size="7.5" font-weight="bold" text-anchor="end" >0.5</text>
<text x="32.8" y="314.4" font-family='"Liberation Serif", serif' font-size="7.5" font-weight="bold" text-anchor="end" >0</text>
<text x="32.8" y="341.05" font-family='"Liberation Serif", serif' font-size="7.5" font-weight="bold" text-anchor="end" >-0.5</text>
<text x="32.8" y="367.7" font-family='"Liberation Serif", serif' font-size="7.5" font-weight="bold" text-anchor="end" >-1</text>
<text x="32.8" y="394.35" font-family='"Liberation Serif", serif' font-size="7.5" font-weight="bold" text-anchor="end" >-1.5</text>
<text x="32.8" y="421" font-family='"Liberation Serif", serif' font-size="7.5" font-weight="bold" text-anchor="end" >-2</text>
<text x="32.8" y="447.65" font-family='"Liberation Serif", serif' font-size="7.5" font-weight="bold" text-anchor="end" >-2.5</text>
<text x="32.8" y="474.3" font-family='"Liberation Serif", serif' font-size="7.5" font-weight="bold" text-anchor="end" >-3</text>
<text x="205" y="509.4" font-family='"Liberation Serif", serif' font-size="7.7" font-weight="bold" text-anchor="middle" >Non-dimensional radial coordinate (ρ)</text>
<text transform="translate(16,386.5) rotate(-90)" font-family='"Liberation Serif", serif' font-size="7.47" font-weight="bold" text-anchor="middle">Non-dimensional axial stress (Σ<tspan font-size="5.2" dy="1.8">zz</tspan><tspan dy="-1.8">)</tspan></text>
<path d="M35.6,389.3 L37.03,388.33 L38.45,387.39 L39.88,386.47 L41.31,385.58 L42.73,384.71 L44.16,383.86 L45.59,383.02 L47.01,382.21 L48.44,381.41 L49.87,380.62 L51.29,379.85 L52.72,379.09 L54.15,378.34 L55.57,377.6 L57,376.87 L58.43,376.15 L59.86,375.44 L61.28,374.74 L62.71,374.05 L64.14,373.36 L65.56,372.69 L66.99,372.01 L68.42,371.35 L69.84,370.69 L71.27,370.04 L72.7,369.39 L74.12,368.75 L75.55,368.11 L76.98,367.48 L78.4,366.85 L79.83,366.23 L81.26,365.61 L82.68,365 L84.11,364.39 L85.54,363.79 L86.96,363.19 L88.39,362.6 L89.82,362 L91.24,361.42 L92.67,360.84 L94.1,360.26 L95.52,359.68 L96.95,359.11 L98.38,358.54 L99.81,357.98 L101.23,357.42 L102.66,356.86 L104.09,356.31 L105.51,355.76 L106.94,355.22 L108.37,354.68 L109.79,354.14 L111.22,353.6 L112.65,353.07 L114.07,352.55 L115.5,352.02 L116.93,351.5 L118.35,350.98 L119.78,350.47 L121.21,349.96 L122.63,349.45 L124.06,348.95 L125.49,348.45 L126.91,347.95 L128.34,347.46 L129.77,346.97 L131.19,346.48 L132.62,346 L134.05,345.52 L135.47,345.04 L136.9,344.56 L138.33,344.09 L139.75,343.62 L141.18,343.16 L142.61,342.7 L144.04,342.24 L145.46,341.78 L146.89,341.33 L148.32,340.88 L149.74,340.43 L151.17,339.98 L152.6,339.54 L154.02,339.1 L155.45,338.67 L156.88,338.23 L158.3,337.8 L159.73,337.38 L161.16,336.95 L162.58,336.53 L164.01,336.11 L165.44,335.69 L166.86,335.28 L168.29,334.86 L169.72,334.45 L171.14,334.05 L172.57,333.64 L174,333.24 L175.42,332.84 L176.85,332.44 L178.28,332.05 L179.7,331.65 L181.13,331.26 L182.56,330.87 L183.98,330.49 L185.41,330.1 L186.84,329.72 L188.27,329.34 L189.69,328.97 L191.12,328.59 L192.55,328.22 L193.97,327.85 L195.4,327.48 L196.83,327.11 L198.25,326.75 L199.68,326.38 L201.11,326.02 L202.53,325.66 L203.96,325.31 L205.39,324.95 L206.81,324.6 L208.24,324.24 L209.67,323.89 L211.09,323.55 L212.52,323.2 L213.95,322.86 L215.37,322.51 L216.8,322.17 L218.23,321.83 L219.65,321.49 L221.08,321.16 L222.51,320.82 L223.93,320.49 L225.36,320.16 L226.79,319.83 L228.22,319.5 L229.64,319.17 L231.07,318.85 L232.5,318.52 L233.92,318.2 L235.35,317.88 L236.78,317.56 L238.2,317.24 L239.63,316.92 L241.06,316.61 L242.48,316.29 L243.91,315.98 L245.34,315.67 L246.76,315.36 L248.19,315.05 L249.62,314.74 L251.04,314.44 L252.47,314.13 L253.9,313.83 L255.32,313.52 L256.75,313.22 L258.18,312.92 L259.6,312.62 L261.03,312.33 L262.46,312.03 L263.88,311.73 L265.31,311.44 L266.74,311.15 L268.16,310.86 L269.59,310.56 L271.02,310.28 L272.45,309.99 L273.87,309.7 L275.3,309.41 L276.73,309.13 L278.15,308.85 L279.58,308.56 L281.01,308.28 L282.43,308 L283.86,307.72 L285.29,307.44 L286.71,307.17 L288.14,306.89 L289.57,306.62 L290.99,306.34 L292.42,306.07 L293.85,305.8 L295.27,305.53 L296.7,305.26 L298.13,304.99 L299.55,304.73 L300.98,304.46 L302.41,304.2 L303.83,303.93 L305.26,303.67 L306.69,303.41 L308.11,303.15 L309.54,302.89 L310.97,302.63 L312.39,302.38 L313.82,302.12 L315.25,301.87 L316.68,301.61 L318.1,301.36 L319.53,301.11 L320.96,300.86 L322.38,300.61 L323.81,300.37 L325.24,300.12 L326.66,299.88 L328.09,299.63 L329.52,299.39 L330.94,299.15 L332.37,298.91 L333.8,298.67 L335.22,298.44 L336.65,298.2 L338.08,297.97 L339.5,297.73 L340.93,297.5 L342.36,297.27 L343.78,297.04 L345.21,296.81 L346.64,296.59 L348.06,296.36 L349.49,296.14 L350.92,295.92 L352.34,295.7 L353.77,295.48 L355.2,295.26 L356.63,295.05 L358.05,294.83 L359.48,294.62 L360.91,294.41 L362.33,294.2 L363.76,293.99 L365.19,293.79 L366.61,293.58 L368.04,293.38 L369.47,293.18 L370.89,292.98 L372.32,292.78 L373.75,292.59 L375.17,292.39 L376.6,292.2" fill="none" stroke="#0000ff" stroke-width="1.2"  stroke-linejoin="round"/>
<path d="M35.6,456.2 L37.03,454.6 L38.45,453 L39.88,451.39 L41.31,449.79 L42.73,448.2 L44.16,446.61 L45.59,445.03 L47.01,443.46 L48.44,441.91 L49.87,440.37 L51.29,438.84 L52.72,437.33 L54.15,435.83 L55.57,434.36 L57,432.9 L58.43,431.46 L59.86,430.03 L61.28,428.63 L62.71,427.24 L64.14,425.88 L65.56,424.53 L66.99,423.2 L68.42,421.89 L69.84,420.6 L71.27,419.32 L72.7,418.07 L74.12,416.83 L75.55,415.61 L76.98,414.41 L78.4,413.23 L79.83,412.06 L81.26,410.91 L82.68,409.78 L84.11,408.67 L85.54,407.57 L86.96,406.48 L88.39,405.42 L89.82,404.36 L91.24,403.32 L92.67,402.3 L94.1,401.29 L95.52,400.3 L96.95,399.31 L98.38,398.34 L99.81,397.39 L101.23,396.45 L102.66,395.52 L104.09,394.6 L105.51,393.69 L106.94,392.79 L108.37,391.91 L109.79,391.04 L111.22,390.18 L112.65,389.32 L114.07,388.48 L115.5,387.65 L116.93,386.83 L118.35,386.02 L119.78,385.21 L121.21,384.42 L122.63,383.63 L124.06,382.86 L125.49,382.09 L126.91,381.33 L128.34,380.58 L129.77,379.83 L131.19,379.09 L132.62,378.36 L134.05,377.64 L135.47,376.93 L136.9,376.22 L138.33,375.52 L139.75,374.82 L141.18,374.13 L142.61,373.45 L144.04,372.78 L145.46,372.11 L146.89,371.44 L148.32,370.78 L149.74,370.13 L151.17,369.48 L152.6,368.84 L154.02,368.2 L155.45,367.57 L156.88,366.95 L158.3,366.33 L159.73,365.71 L161.16,365.1 L162.58,364.49 L164.01,363.89 L165.44,363.29 L166.86,362.7 L168.29,362.11 L169.72,361.52 L171.14,360.94 L172.57,360.37 L174,359.8 L175.42,359.23 L176.85,358.66 L178.28,358.1 L179.7,357.55 L181.13,356.99 L182.56,356.44 L183.98,355.9 L185.41,355.36 L186.84,354.82 L188.27,354.29 L189.69,353.75 L191.12,353.23 L192.55,352.7 L193.97,352.18 L195.4,351.66 L196.83,351.15 L198.25,350.64 L199.68,350.13 L201.11,349.63 L202.53,349.12 L203.96,348.63 L205.39,348.13 L206.81,347.64 L208.24,347.15 L209.67,346.66 L211.09,346.18 L212.52,345.7 L213.95,345.22 L215.37,344.75 L216.8,344.27 L218.23,343.81 L219.65,343.34 L221.08,342.88 L222.51,342.42 L223.93,341.96 L225.36,341.5 L226.79,341.05 L228.22,340.6 L229.64,340.15 L231.07,339.71 L232.5,339.27 L233.92,338.83 L235.35,338.39 L236.78,337.96 L238.2,337.53 L239.63,337.1 L241.06,336.67 L242.48,336.25 L243.91,335.83 L245.34,335.41 L246.76,334.99 L248.19,334.58 L249.62,334.17 L251.04,333.76 L252.47,333.35 L253.9,332.95 L255.32,332.55 L256.75,332.15 L258.18,331.75 L259.6,331.36 L261.03,330.97 L262.46,330.58 L263.88,330.19 L265.31,329.81 L266.74,329.42 L268.16,329.04 L269.59,328.67 L271.02,328.29 L272.45,327.92 L273.87,327.55 L275.3,327.18 L276.73,326.81 L278.15,326.45 L279.58,326.08 L281.01,325.72 L282.43,325.36 L283.86,325.01 L285.29,324.66 L286.71,324.3 L288.14,323.95 L289.57,323.61 L290.99,323.26 L292.42,322.92 L293.85,322.58 L295.27,322.24 L296.7,321.9 L298.13,321.56 L299.55,321.23 L300.98,320.9 L302.41,320.57 L303.83,320.24 L305.26,319.91 L306.69,319.59 L308.11,319.27 L309.54,318.95 L310.97,318.63 L312.39,318.31 L313.82,318 L315.25,317.68 L316.68,317.37 L318.1,317.06 L319.53,316.75 L320.96,316.44 L322.38,316.14 L323.81,315.84 L325.24,315.53 L326.66,315.23 L328.09,314.93 L329.52,314.64 L330.94,314.34 L332.37,314.05 L333.8,313.75 L335.22,313.46 L336.65,313.17 L338.08,312.88 L339.5,312.6 L340.93,312.31 L342.36,312.03 L343.78,311.74 L345.21,311.46 L346.64,311.18 L348.06,310.9 L349.49,310.62 L350.92,310.34 L352.34,310.06 L353.77,309.79 L355.2,309.51 L356.63,309.24 L358.05,308.97 L359.48,308.7 L360.91,308.43 L362.33,308.16 L363.76,307.89 L365.19,307.62 L366.61,307.35 L368.04,307.09 L369.47,306.82 L370.89,306.55 L372.32,306.29 L373.75,306.03 L375.17,305.76 L376.6,305.5" fill="none" stroke="#0000ff" stroke-width="1.2" stroke-dasharray="4.2 1.9" stroke-linejoin="round"/>
<path d="M35.6,474.5 L37.03,472.9 L38.45,471.26 L39.88,469.59 L41.31,467.91 L42.73,466.2 L44.16,464.49 L45.59,462.76 L47.01,461.04 L48.44,459.32 L49.87,457.6 L51.29,455.88 L52.72,454.18 L54.15,452.49 L55.57,450.81 L57,449.14 L58.43,447.49 L59.86,445.86 L61.28,444.25 L62.71,442.65 L64.14,441.08 L65.56,439.52 L66.99,437.99 L68.42,436.48 L69.84,434.98 L71.27,433.51 L72.7,432.06 L74.12,430.63 L75.55,429.23 L76.98,427.84 L78.4,426.48 L79.83,425.13 L81.26,423.81 L82.68,422.51 L84.11,421.23 L85.54,419.97 L86.96,418.72 L88.39,417.5 L89.82,416.3 L91.24,415.11 L92.67,413.95 L94.1,412.8 L95.52,411.67 L96.95,410.56 L98.38,409.46 L99.81,408.38 L101.23,407.31 L102.66,406.27 L104.09,405.23 L105.51,404.22 L106.94,403.21 L108.37,402.22 L109.79,401.25 L111.22,400.29 L112.65,399.34 L114.07,398.4 L115.5,397.48 L116.93,396.57 L118.35,395.67 L119.78,394.78 L121.21,393.91 L122.63,393.04 L124.06,392.19 L125.49,391.34 L126.91,390.51 L128.34,389.69 L129.77,388.87 L131.19,388.07 L132.62,387.27 L134.05,386.49 L135.47,385.71 L136.9,384.94 L138.33,384.17 L139.75,383.42 L141.18,382.67 L142.61,381.94 L144.04,381.2 L145.46,380.48 L146.89,379.76 L148.32,379.05 L149.74,378.35 L151.17,377.65 L152.6,376.96 L154.02,376.28 L155.45,375.6 L156.88,374.92 L158.3,374.26 L159.73,373.6 L161.16,372.94 L162.58,372.29 L164.01,371.64 L165.44,371 L166.86,370.37 L168.29,369.74 L169.72,369.11 L171.14,368.49 L172.57,367.87 L174,367.26 L175.42,366.65 L176.85,366.05 L178.28,365.45 L179.7,364.86 L181.13,364.27 L182.56,363.68 L183.98,363.1 L185.41,362.52 L186.84,361.94 L188.27,361.37 L189.69,360.81 L191.12,360.24 L192.55,359.68 L193.97,359.13 L195.4,358.57 L196.83,358.02 L198.25,357.48 L199.68,356.93 L201.11,356.4 L202.53,355.86 L203.96,355.33 L205.39,354.8 L206.81,354.27 L208.24,353.75 L209.67,353.23 L211.09,352.71 L212.52,352.2 L213.95,351.69 L215.37,351.18 L216.8,350.68 L218.23,350.18 L219.65,349.68 L221.08,349.18 L222.51,348.69 L223.93,348.2 L225.36,347.71 L226.79,347.23 L228.22,346.75 L229.64,346.27 L231.07,345.8 L232.5,345.33 L233.92,344.86 L235.35,344.39 L236.78,343.92 L238.2,343.46 L239.63,343.01 L241.06,342.55 L242.48,342.1 L243.91,341.65 L245.34,341.2 L246.76,340.75 L248.19,340.31 L249.62,339.87 L251.04,339.44 L252.47,339 L253.9,338.57 L255.32,338.14 L256.75,337.71 L258.18,337.29 L259.6,336.87 L261.03,336.45 L262.46,336.03 L263.88,335.62 L265.31,335.21 L266.74,334.8 L268.16,334.39 L269.59,333.99 L271.02,333.59 L272.45,333.19 L273.87,332.79 L275.3,332.4 L276.73,332.01 L278.15,331.62 L279.58,331.23 L281.01,330.85 L282.43,330.47 L283.86,330.09 L285.29,329.71 L286.71,329.33 L288.14,328.96 L289.57,328.59 L290.99,328.22 L292.42,327.86 L293.85,327.49 L295.27,327.13 L296.7,326.77 L298.13,326.41 L299.55,326.06 L300.98,325.7 L302.41,325.35 L303.83,325 L305.26,324.66 L306.69,324.31 L308.11,323.97 L309.54,323.63 L310.97,323.29 L312.39,322.95 L313.82,322.62 L315.25,322.28 L316.68,321.95 L318.1,321.62 L319.53,321.29 L320.96,320.96 L322.38,320.64 L323.81,320.32 L325.24,320 L326.66,319.68 L328.09,319.36 L329.52,319.04 L330.94,318.72 L332.37,318.41 L333.8,318.1 L335.22,317.79 L336.65,317.48 L338.08,317.17 L339.5,316.86 L340.93,316.56 L342.36,316.25 L343.78,315.95 L345.21,315.65 L346.64,315.35 L348.06,315.05 L349.49,314.75 L350.92,314.45 L352.34,314.15 L353.77,313.85 L355.2,313.56 L356.63,313.26 L358.05,312.97 L359.48,312.68 L360.91,312.39 L362.33,312.09 L363.76,311.8 L365.19,311.51 L366.61,311.22 L368.04,310.93 L369.47,310.64 L370.89,310.35 L372.32,310.06 L373.75,309.78 L375.17,309.49 L376.6,309.2" fill="none" stroke="#0000ff" stroke-width="1.2" stroke-dasharray="1 1.3" stroke-linejoin="round"/>
<path d="M35.6,478.2 L37.03,476.01 L38.45,473.86 L39.88,471.75 L41.31,469.67 L42.73,467.63 L44.16,465.62 L45.59,463.64 L47.01,461.7 L48.44,459.79 L49.87,457.91 L51.29,456.07 L52.72,454.26 L54.15,452.47 L55.57,450.72 L57,449 L58.43,447.31 L59.86,445.64 L61.28,444.01 L62.71,442.4 L64.14,440.82 L65.56,439.26 L66.99,437.74 L68.42,436.23 L69.84,434.75 L71.27,433.3 L72.7,431.87 L74.12,430.46 L75.55,429.07 L76.98,427.71 L78.4,426.37 L79.83,425.05 L81.26,423.75 L82.68,422.47 L84.11,421.21 L85.54,419.97 L86.96,418.74 L88.39,417.54 L89.82,416.35 L91.24,415.19 L92.67,414.03 L94.1,412.9 L95.52,411.78 L96.95,410.68 L98.38,409.59 L99.81,408.52 L101.23,407.46 L102.66,406.42 L104.09,405.39 L105.51,404.38 L106.94,403.38 L108.37,402.39 L109.79,401.41 L111.22,400.45 L112.65,399.5 L114.07,398.56 L115.5,397.64 L116.93,396.72 L118.35,395.82 L119.78,394.93 L121.21,394.04 L122.63,393.17 L124.06,392.31 L125.49,391.46 L126.91,390.62 L128.34,389.79 L129.77,388.96 L131.19,388.15 L132.62,387.34 L134.05,386.55 L135.47,385.76 L136.9,384.98 L138.33,384.21 L139.75,383.45 L141.18,382.69 L142.61,381.95 L144.04,381.21 L145.46,380.47 L146.89,379.75 L148.32,379.03 L149.74,378.32 L151.17,377.61 L152.6,376.92 L154.02,376.22 L155.45,375.54 L156.88,374.86 L158.3,374.19 L159.73,373.52 L161.16,372.86 L162.58,372.2 L164.01,371.55 L165.44,370.91 L166.86,370.27 L168.29,369.64 L169.72,369.01 L171.14,368.39 L172.57,367.77 L174,367.15 L175.42,366.55 L176.85,365.94 L178.28,365.34 L179.7,364.75 L181.13,364.16 L182.56,363.57 L183.98,362.99 L185.41,362.41 L186.84,361.84 L188.27,361.27 L189.69,360.71 L191.12,360.15 L192.55,359.59 L193.97,359.04 L195.4,358.49 L196.83,357.94 L198.25,357.4 L199.68,356.86 L201.11,356.33 L202.53,355.8 L203.96,355.27 L205.39,354.74 L206.81,354.22 L208.24,353.7 L209.67,353.19 L211.09,352.68 L212.52,352.17 L213.95,351.67 L215.37,351.16 L216.8,350.66 L218.23,350.17 L219.65,349.68 L221.08,349.19 L222.51,348.7 L223.93,348.21 L225.36,347.73 L226.79,347.26 L228.22,346.78 L229.64,346.31 L231.07,345.84 L232.5,345.37 L233.92,344.9 L235.35,344.44 L236.78,343.98 L238.2,343.52 L239.63,343.07 L241.06,342.62 L242.48,342.17 L243.91,341.72 L245.34,341.28 L246.76,340.83 L248.19,340.39 L249.62,339.96 L251.04,339.52 L252.47,339.09 L253.9,338.66 L255.32,338.23 L256.75,337.8 L258.18,337.38 L259.6,336.96 L261.03,336.54 L262.46,336.12 L263.88,335.71 L265.31,335.3 L266.74,334.89 L268.16,334.48 L269.59,334.07 L271.02,333.67 L272.45,333.27 L273.87,332.87 L275.3,332.47 L276.73,332.08 L278.15,331.69 L279.58,331.3 L281.01,330.91 L282.43,330.52 L283.86,330.14 L285.29,329.76 L286.71,329.38 L288.14,329 L289.57,328.62 L290.99,328.25 L292.42,327.88 L293.85,327.51 L295.27,327.14 L296.7,326.77 L298.13,326.41 L299.55,326.05 L300.98,325.69 L302.41,325.33 L303.83,324.98 L305.26,324.63 L306.69,324.27 L308.11,323.93 L309.54,323.58 L310.97,323.23 L312.39,322.89 L313.82,322.55 L315.25,322.21 L316.68,321.87 L318.1,321.54 L319.53,321.21 L320.96,320.88 L322.38,320.55 L323.81,320.22 L325.24,319.9 L326.66,319.57 L328.09,319.25 L329.52,318.94 L330.94,318.62 L332.37,318.3 L333.8,317.99 L335.22,317.68 L336.65,317.37 L338.08,317.07 L339.5,316.76 L340.93,316.46 L342.36,316.16 L343.78,315.87 L345.21,315.57 L346.64,315.28 L348.06,314.98 L349.49,314.69 L350.92,314.41 L352.34,314.12 L353.77,313.84 L355.2,313.56 L356.63,313.28 L358.05,313 L359.48,312.73 L360.91,312.46 L362.33,312.19 L363.76,311.92 L365.19,311.65 L366.61,311.39 L368.04,311.13 L369.47,310.87 L370.89,310.61 L372.32,310.35 L373.75,310.1 L375.17,309.85 L376.6,309.6" fill="none" stroke="#0000ff" stroke-width="1.2" stroke-dasharray="4.2 1.9 1 1.9" stroke-linejoin="round"/>
<path d="M321.2,440.5H339.5" stroke="#0000ff" stroke-width="1.2"  fill="none"/>
<text font-family='"Liberation Serif", serif' font-size="7.3" y="441.9"><tspan x="340.6">K</tspan><tspan x="345.3" dy="3.6" font-size="6.2" font-weight="normal">W</tspan><tspan x="356.1" dy="-3.6">0</tspan></text>
<path d="M350.8,438.5h3.5M350.8,440.5h3.5" stroke="#222" stroke-width="0.8" fill="none"/>
<path d="M321.2,453.5H339.5" stroke="#0000ff" stroke-width="1.2" stroke-dasharray="4.2 1.9" stroke-dashoffset="4.2" fill="none"/>
<text font-family='"Liberation Serif", serif' font-size="7.3" y="454.8"><tspan x="340.6">K</tspan><tspan x="345.3" dy="3.6" font-size="6.2" font-weight="normal">W</tspan><tspan x="356.1" dy="-3.6">1</tspan></text>
<path d="M350.8,451.5h3.5M350.8,453.5h3.5" stroke="#222" stroke-width="0.8" fill="none"/>
<path d="M321.2,466.5H339.5" stroke="#0000ff" stroke-width="1.2" stroke-dasharray="1 1.3" fill="none"/>
<text font-family='"Liberation Serif", serif' font-size="7.3" y="467.7"><tspan x="340.6">K</tspan><tspan x="345.3" dy="3.6" font-size="6.2" font-weight="normal">W</tspan><tspan x="356.1" dy="-3.6">5</tspan></text>
<path d="M350.8,464.5h3.5M350.8,466.5h3.5" stroke="#222" stroke-width="0.8" fill="none"/>
<path d="M321.2,479.5H339.5" stroke="#0000ff" stroke-width="1.2" stroke-dasharray="4.2 1.9 1 1.9" fill="none"/>
<text font-family='"Liberation Serif", serif' font-size="7.3" y="480.6"><tspan x="340.6">K</tspan><tspan x="345.3" dy="3.6" font-size="6.2" font-weight="normal">W</tspan><tspan x="356.1" dy="-3.6">10</tspan></text>
<path d="M350.8,477.5h3.5M350.8,479.5h3.5" stroke="#222" stroke-width="0.8" fill="none"/>
<text x="203.6" y="540.8" font-family='"Liberation Serif", serif' font-size="23" font-weight="normal" text-anchor="middle" >(c)</text>
<rect x="475.5" y="285.2" width="341.1" height="207.6" fill="none" stroke="#777" stroke-width="1"/>
<path d="M475.5,492.8v-3.5M475.5,285.2v3.5M532.35,492.8v-3.5M532.35,285.2v3.5M589.2,492.8v-3.5M589.2,285.2v3.5M646.05,492.8v-3.5M646.05,285.2v3.5M702.9,492.8v-3.5M702.9,285.2v3.5M759.75,492.8v-3.5M759.75,285.2v3.5M816.6,492.8v-3.5M816.6,285.2v3.5M475.5,297.36h3.5M816.6,297.36h-3.5M475.5,322.78h3.5M816.6,322.78h-3.5M475.5,348.2h3.5M816.6,348.2h-3.5M475.5,373.62h3.5M816.6,373.62h-3.5M475.5,399.04h3.5M816.6,399.04h-3.5M475.5,424.46h3.5M816.6,424.46h-3.5M475.5,449.88h3.5M816.6,449.88h-3.5M475.5,475.3h3.5M816.6,475.3h-3.5" stroke="#555" stroke-width="0.9" fill="none"/>
<text x="475" y="500.7" font-family='"Liberation Sans", sans-serif' font-size="7.1" font-weight="bold" text-anchor="middle" >1</text>
<text x="531.85" y="500.7" font-family='"Liberation Sans", sans-serif' font-size="7.1" font-weight="bold" text-anchor="middle" >1.5</text>
<text x="588.7" y="500.7" font-family='"Liberation Sans", sans-serif' font-size="7.1" font-weight="bold" text-anchor="middle" >2</text>
<text x="645.55" y="500.7" font-family='"Liberation Sans", sans-serif' font-size="7.1" font-weight="bold" text-anchor="middle" >2.5</text>
<text x="702.4" y="500.7" font-family='"Liberation Sans", sans-serif' font-size="7.1" font-weight="bold" text-anchor="middle" >3</text>
<text x="759.25" y="500.7" font-family='"Liberation Sans", sans-serif' font-size="7.1" font-weight="bold" text-anchor="middle" >3.5</text>
<text x="816.1" y="500.7" font-family='"Liberation Sans", sans-serif' font-size="7.1" font-weight="bold" text-anchor="middle" >4</text>
<text x="473.1" y="299.96" font-family='"Liberation Sans", sans-serif' font-size="7.1" font-weight="bold" text-anchor="end" >1.4</text>
<text x="473.1" y="325.38" font-family='"Liberation Sans", sans-serif' font-size="7.1" font-weight="bold" text-anchor="end" >1.2</text>
<text x="473.1" y="350.8" font-family='"Liberation Sans", sans-serif' font-size="7.1" font-weight="bold" text-anchor="end" >1</text>
<text x="473.1" y="376.22" font-family='"Liberation Sans", sans-serif' font-size="7.1" font-weight="bold" text-anchor="end" >0.8</text>
<text x="473.1" y="401.64" font-family='"Liberation Sans", sans-serif' font-size="7.1" font-weight="bold" text-anchor="end" >0.6</text>
<text x="473.1" y="427.06" font-family='"Liberation Sans", sans-serif' font-size="7.1" font-weight="bold" text-anchor="end" >0.4</text>
<text x="473.1" y="452.48" font-family='"Liberation Sans", sans-serif' font-size="7.1" font-weight="bold" text-anchor="end" >0.2</text>
<text x="473.1" y="477.9" font-family='"Liberation Sans", sans-serif' font-size="7.1" font-weight="bold" text-anchor="end" >0</text>
<text x="645" y="509.4" font-family='"Liberation Serif", serif' font-size="7.7" font-weight="bold" text-anchor="middle" >Non-dimensional radial coordinate (ρ)</text>
<text transform="translate(457.6,382.6) rotate(-90)" font-family='"Liberation Serif", serif' font-size="7.0" font-weight="bold" text-anchor="middle">Non-dimensional electric potential ( Φ<tspan font-size="5.2" dy="1.8">I</tspan><tspan dy="-1.8">)</tspan></text>
<path d="M475.5,348 L476.93,348.35 L478.35,348.71 L479.78,349.08 L481.21,349.46 L482.64,349.84 L484.06,350.24 L485.49,350.64 L486.92,351.05 L488.34,351.46 L489.77,351.87 L491.2,352.29 L492.63,352.72 L494.05,353.14 L495.48,353.57 L496.91,354 L498.34,354.43 L499.76,354.86 L501.19,355.3 L502.62,355.73 L504.04,356.17 L505.47,356.6 L506.9,357.04 L508.33,357.48 L509.75,357.92 L511.18,358.36 L512.61,358.8 L514.03,359.24 L515.46,359.68 L516.89,360.12 L518.32,360.56 L519.74,361 L521.17,361.45 L522.6,361.89 L524.02,362.33 L525.45,362.78 L526.88,363.22 L528.31,363.66 L529.73,364.11 L531.16,364.55 L532.59,365 L534.02,365.45 L535.44,365.9 L536.87,366.34 L538.3,366.79 L539.72,367.24 L541.15,367.69 L542.58,368.14 L544.01,368.6 L545.43,369.05 L546.86,369.5 L548.29,369.96 L549.71,370.42 L551.14,370.87 L552.57,371.33 L554,371.79 L555.42,372.25 L556.85,372.71 L558.28,373.18 L559.7,373.64 L561.13,374.11 L562.56,374.58 L563.99,375.04 L565.41,375.51 L566.84,375.99 L568.27,376.46 L569.69,376.93 L571.12,377.41 L572.55,377.89 L573.98,378.36 L575.4,378.84 L576.83,379.33 L578.26,379.81 L579.69,380.29 L581.11,380.78 L582.54,381.27 L583.97,381.76 L585.39,382.25 L586.82,382.74 L588.25,383.24 L589.68,383.73 L591.1,384.23 L592.53,384.73 L593.96,385.23 L595.38,385.73 L596.81,386.23 L598.24,386.74 L599.67,387.25 L601.09,387.75 L602.52,388.26 L603.95,388.77 L605.37,389.29 L606.8,389.8 L608.23,390.32 L609.66,390.84 L611.08,391.35 L612.51,391.88 L613.94,392.4 L615.37,392.92 L616.79,393.45 L618.22,393.97 L619.65,394.5 L621.07,395.03 L622.5,395.56 L623.93,396.09 L625.36,396.63 L626.78,397.16 L628.21,397.7 L629.64,398.24 L631.06,398.78 L632.49,399.32 L633.92,399.86 L635.35,400.4 L636.77,400.95 L638.2,401.49 L639.63,402.04 L641.05,402.59 L642.48,403.14 L643.91,403.69 L645.34,404.24 L646.76,404.8 L648.19,405.35 L649.62,405.91 L651.05,406.46 L652.47,407.02 L653.9,407.58 L655.33,408.14 L656.75,408.7 L658.18,409.27 L659.61,409.83 L661.04,410.39 L662.46,410.96 L663.89,411.53 L665.32,412.09 L666.74,412.66 L668.17,413.23 L669.6,413.8 L671.03,414.38 L672.45,414.95 L673.88,415.52 L675.31,416.1 L676.73,416.67 L678.16,417.25 L679.59,417.82 L681.02,418.4 L682.44,418.98 L683.87,419.56 L685.3,420.14 L686.73,420.72 L688.15,421.3 L689.58,421.89 L691.01,422.47 L692.43,423.05 L693.86,423.64 L695.29,424.22 L696.72,424.81 L698.14,425.4 L699.57,425.98 L701,426.57 L702.42,427.16 L703.85,427.75 L705.28,428.34 L706.71,428.93 L708.13,429.52 L709.56,430.11 L710.99,430.71 L712.41,431.3 L713.84,431.89 L715.27,432.49 L716.7,433.08 L718.12,433.68 L719.55,434.27 L720.98,434.87 L722.41,435.46 L723.83,436.06 L725.26,436.66 L726.69,437.25 L728.11,437.85 L729.54,438.45 L730.97,439.05 L732.4,439.65 L733.82,440.25 L735.25,440.85 L736.68,441.45 L738.1,442.05 L739.53,442.65 L740.96,443.25 L742.39,443.85 L743.81,444.46 L745.24,445.06 L746.67,445.66 L748.09,446.27 L749.52,446.87 L750.95,447.47 L752.38,448.08 L753.8,448.68 L755.23,449.29 L756.66,449.89 L758.08,450.5 L759.51,451.1 L760.94,451.71 L762.37,452.31 L763.79,452.92 L765.22,453.53 L766.65,454.13 L768.08,454.74 L769.5,455.35 L770.93,455.95 L772.36,456.56 L773.78,457.17 L775.21,457.78 L776.64,458.39 L778.07,458.99 L779.49,459.6 L780.92,460.21 L782.35,460.82 L783.77,461.43 L785.2,462.04 L786.63,462.65 L788.06,463.26 L789.48,463.87 L790.91,464.48 L792.34,465.09 L793.76,465.7 L795.19,466.31 L796.62,466.92 L798.05,467.53 L799.47,468.15 L800.9,468.76 L802.33,469.37 L803.76,469.98 L805.18,470.59 L806.61,471.21 L808.04,471.82 L809.46,472.43 L810.89,473.05 L812.32,473.66 L813.75,474.27 L815.17,474.89 L816.6,475.5" fill="none" stroke="#0000ff" stroke-width="1.2"  stroke-linejoin="round"/>
<path d="M475.5,347.8 L476.93,345.91 L478.35,344.13 L479.78,342.44 L481.21,340.85 L482.64,339.35 L484.06,337.93 L485.49,336.58 L486.92,335.3 L488.34,334.1 L489.77,332.95 L491.2,331.87 L492.63,330.85 L494.05,329.87 L495.48,328.95 L496.91,328.08 L498.34,327.25 L499.76,326.47 L501.19,325.73 L502.62,325.03 L504.04,324.37 L505.47,323.75 L506.9,323.16 L508.33,322.61 L509.75,322.09 L511.18,321.6 L512.61,321.15 L514.03,320.72 L515.46,320.32 L516.89,319.95 L518.32,319.61 L519.74,319.3 L521.17,319.01 L522.6,318.74 L524.02,318.5 L525.45,318.29 L526.88,318.1 L528.31,317.93 L529.73,317.78 L531.16,317.66 L532.59,317.56 L534.02,317.47 L535.44,317.41 L536.87,317.37 L538.3,317.35 L539.72,317.35 L541.15,317.37 L542.58,317.41 L544.01,317.46 L545.43,317.54 L546.86,317.63 L548.29,317.74 L549.71,317.86 L551.14,318.01 L552.57,318.17 L554,318.35 L555.42,318.54 L556.85,318.75 L558.28,318.97 L559.7,319.21 L561.13,319.47 L562.56,319.74 L563.99,320.02 L565.41,320.32 L566.84,320.63 L568.27,320.96 L569.69,321.3 L571.12,321.66 L572.55,322.03 L573.98,322.41 L575.4,322.8 L576.83,323.21 L578.26,323.63 L579.69,324.06 L581.11,324.5 L582.54,324.96 L583.97,325.43 L585.39,325.91 L586.82,326.4 L588.25,326.9 L589.68,327.41 L591.1,327.93 L592.53,328.47 L593.96,329.01 L595.38,329.56 L596.81,330.13 L598.24,330.7 L599.67,331.29 L601.09,331.88 L602.52,332.48 L603.95,333.09 L605.37,333.71 L606.8,334.34 L608.23,334.98 L609.66,335.63 L611.08,336.28 L612.51,336.95 L613.94,337.62 L615.37,338.3 L616.79,338.98 L618.22,339.68 L619.65,340.38 L621.07,341.09 L622.5,341.8 L623.93,342.53 L625.36,343.26 L626.78,343.99 L628.21,344.74 L629.64,345.49 L631.06,346.24 L632.49,347.01 L633.92,347.78 L635.35,348.55 L636.77,349.33 L638.2,350.12 L639.63,350.91 L641.05,351.7 L642.48,352.51 L643.91,353.32 L645.34,354.13 L646.76,354.95 L648.19,355.77 L649.62,356.6 L651.05,357.43 L652.47,358.27 L653.9,359.11 L655.33,359.96 L656.75,360.81 L658.18,361.66 L659.61,362.52 L661.04,363.38 L662.46,364.25 L663.89,365.12 L665.32,366 L666.74,366.88 L668.17,367.76 L669.6,368.65 L671.03,369.54 L672.45,370.43 L673.88,371.33 L675.31,372.23 L676.73,373.13 L678.16,374.04 L679.59,374.95 L681.02,375.86 L682.44,376.78 L683.87,377.7 L685.3,378.62 L686.73,379.54 L688.15,380.47 L689.58,381.4 L691.01,382.34 L692.43,383.27 L693.86,384.21 L695.29,385.16 L696.72,386.1 L698.14,387.05 L699.57,388 L701,388.95 L702.42,389.91 L703.85,390.86 L705.28,391.82 L706.71,392.79 L708.13,393.75 L709.56,394.72 L710.99,395.69 L712.41,396.66 L713.84,397.64 L715.27,398.61 L716.7,399.59 L718.12,400.58 L719.55,401.56 L720.98,402.55 L722.41,403.54 L723.83,404.53 L725.26,405.52 L726.69,406.52 L728.11,407.52 L729.54,408.52 L730.97,409.52 L732.4,410.53 L733.82,411.54 L735.25,412.55 L736.68,413.56 L738.1,414.58 L739.53,415.6 L740.96,416.62 L742.39,417.64 L743.81,418.67 L745.24,419.7 L746.67,420.73 L748.09,421.76 L749.52,422.8 L750.95,423.84 L752.38,424.88 L753.8,425.93 L755.23,426.97 L756.66,428.03 L758.08,429.08 L759.51,430.14 L760.94,431.2 L762.37,432.26 L763.79,433.32 L765.22,434.39 L766.65,435.47 L768.08,436.54 L769.5,437.62 L770.93,438.7 L772.36,439.79 L773.78,440.88 L775.21,441.97 L776.64,443.07 L778.07,444.17 L779.49,445.27 L780.92,446.38 L782.35,447.49 L783.77,448.6 L785.2,449.72 L786.63,450.85 L788.06,451.97 L789.48,453.1 L790.91,454.24 L792.34,455.38 L793.76,456.52 L795.19,457.67 L796.62,458.83 L798.05,459.99 L799.47,461.15 L800.9,462.32 L802.33,463.49 L803.76,464.67 L805.18,465.85 L806.61,467.04 L808.04,468.23 L809.46,469.43 L810.89,470.63 L812.32,471.84 L813.75,473.05 L815.17,474.27 L816.6,475.5" fill="none" stroke="#0000ff" stroke-width="1.2" stroke-dasharray="4.2 1.9" stroke-linejoin="round"/>
<path d="M475.5,347.8 L476.93,345.29 L478.35,342.93 L479.78,340.69 L481.21,338.58 L482.64,336.58 L484.06,334.69 L485.49,332.89 L486.92,331.19 L488.34,329.57 L489.77,328.04 L491.2,326.58 L492.63,325.19 L494.05,323.87 L495.48,322.61 L496.91,321.42 L498.34,320.28 L499.76,319.19 L501.19,318.16 L502.62,317.18 L504.04,316.24 L505.47,315.35 L506.9,314.5 L508.33,313.7 L509.75,312.93 L511.18,312.21 L512.61,311.52 L514.03,310.87 L515.46,310.25 L516.89,309.67 L518.32,309.12 L519.74,308.6 L521.17,308.11 L522.6,307.65 L524.02,307.23 L525.45,306.83 L526.88,306.46 L528.31,306.12 L529.73,305.8 L531.16,305.52 L532.59,305.25 L534.02,305.02 L535.44,304.81 L536.87,304.62 L538.3,304.46 L539.72,304.32 L541.15,304.2 L542.58,304.11 L544.01,304.04 L545.43,303.99 L546.86,303.97 L548.29,303.97 L549.71,303.98 L551.14,304.02 L552.57,304.08 L554,304.16 L555.42,304.26 L556.85,304.38 L558.28,304.52 L559.7,304.68 L561.13,304.86 L562.56,305.05 L563.99,305.27 L565.41,305.5 L566.84,305.75 L568.27,306.02 L569.69,306.3 L571.12,306.61 L572.55,306.92 L573.98,307.26 L575.4,307.61 L576.83,307.98 L578.26,308.37 L579.69,308.77 L581.11,309.18 L582.54,309.61 L583.97,310.06 L585.39,310.52 L586.82,310.99 L588.25,311.48 L589.68,311.98 L591.1,312.5 L592.53,313.03 L593.96,313.57 L595.38,314.13 L596.81,314.7 L598.24,315.28 L599.67,315.88 L601.09,316.48 L602.52,317.1 L603.95,317.73 L605.37,318.37 L606.8,319.03 L608.23,319.69 L609.66,320.37 L611.08,321.05 L612.51,321.75 L613.94,322.46 L615.37,323.17 L616.79,323.9 L618.22,324.64 L619.65,325.38 L621.07,326.14 L622.5,326.91 L623.93,327.68 L625.36,328.46 L626.78,329.25 L628.21,330.05 L629.64,330.86 L631.06,331.68 L632.49,332.51 L633.92,333.34 L635.35,334.18 L636.77,335.03 L638.2,335.88 L639.63,336.74 L641.05,337.61 L642.48,338.49 L643.91,339.37 L645.34,340.26 L646.76,341.16 L648.19,342.06 L649.62,342.97 L651.05,343.88 L652.47,344.8 L653.9,345.73 L655.33,346.66 L656.75,347.6 L658.18,348.54 L659.61,349.49 L661.04,350.44 L662.46,351.4 L663.89,352.36 L665.32,353.33 L666.74,354.3 L668.17,355.28 L669.6,356.26 L671.03,357.25 L672.45,358.24 L673.88,359.23 L675.31,360.23 L676.73,361.24 L678.16,362.24 L679.59,363.25 L681.02,364.27 L682.44,365.29 L683.87,366.31 L685.3,367.33 L686.73,368.36 L688.15,369.4 L689.58,370.43 L691.01,371.47 L692.43,372.51 L693.86,373.56 L695.29,374.61 L696.72,375.66 L698.14,376.72 L699.57,377.77 L701,378.84 L702.42,379.9 L703.85,380.97 L705.28,382.04 L706.71,383.11 L708.13,384.19 L709.56,385.26 L710.99,386.35 L712.41,387.43 L713.84,388.52 L715.27,389.61 L716.7,390.7 L718.12,391.79 L719.55,392.89 L720.98,393.99 L722.41,395.09 L723.83,396.2 L725.26,397.31 L726.69,398.42 L728.11,399.53 L729.54,400.65 L730.97,401.77 L732.4,402.89 L733.82,404.01 L735.25,405.14 L736.68,406.27 L738.1,407.4 L739.53,408.54 L740.96,409.67 L742.39,410.81 L743.81,411.96 L745.24,413.11 L746.67,414.25 L748.09,415.41 L749.52,416.56 L750.95,417.72 L752.38,418.88 L753.8,420.05 L755.23,421.22 L756.66,422.39 L758.08,423.56 L759.51,424.74 L760.94,425.92 L762.37,427.11 L763.79,428.3 L765.22,429.49 L766.65,430.69 L768.08,431.89 L769.5,433.09 L770.93,434.3 L772.36,435.51 L773.78,436.72 L775.21,437.94 L776.64,439.17 L778.07,440.39 L779.49,441.63 L780.92,442.86 L782.35,444.1 L783.77,445.35 L785.2,446.6 L786.63,447.86 L788.06,449.12 L789.48,450.38 L790.91,451.65 L792.34,452.93 L793.76,454.21 L795.19,455.49 L796.62,456.78 L798.05,458.08 L799.47,459.38 L800.9,460.69 L802.33,462.01 L803.76,463.33 L805.18,464.65 L806.61,465.99 L808.04,467.32 L809.46,468.67 L810.89,470.02 L812.32,471.38 L813.75,472.75 L815.17,474.12 L816.6,475.5" fill="none" stroke="#0000ff" stroke-width="1.2" stroke-dasharray="1 1.3" stroke-linejoin="round"/>
<path d="M475.5,347.8 L476.93,345.22 L478.35,342.78 L479.78,340.48 L481.21,338.3 L482.64,336.24 L484.06,334.29 L485.49,332.44 L486.92,330.69 L488.34,329.02 L489.77,327.43 L491.2,325.93 L492.63,324.49 L494.05,323.12 L495.48,321.82 L496.91,320.58 L498.34,319.4 L499.76,318.27 L501.19,317.2 L502.62,316.17 L504.04,315.19 L505.47,314.26 L506.9,313.37 L508.33,312.53 L509.75,311.72 L511.18,310.96 L512.61,310.23 L514.03,309.54 L515.46,308.88 L516.89,308.26 L518.32,307.67 L519.74,307.12 L521.17,306.59 L522.6,306.1 L524.02,305.64 L525.45,305.21 L526.88,304.8 L528.31,304.43 L529.73,304.08 L531.16,303.76 L532.59,303.47 L534.02,303.2 L535.44,302.96 L536.87,302.75 L538.3,302.56 L539.72,302.39 L541.15,302.25 L542.58,302.14 L544.01,302.05 L545.43,301.98 L546.86,301.93 L548.29,301.91 L549.71,301.91 L551.14,301.93 L552.57,301.97 L554,302.03 L555.42,302.12 L556.85,302.23 L558.28,302.35 L559.7,302.5 L561.13,302.67 L562.56,302.86 L563.99,303.06 L565.41,303.29 L566.84,303.53 L568.27,303.8 L569.69,304.08 L571.12,304.38 L572.55,304.7 L573.98,305.03 L575.4,305.39 L576.83,305.76 L578.26,306.14 L579.69,306.55 L581.11,306.97 L582.54,307.4 L583.97,307.86 L585.39,308.32 L586.82,308.81 L588.25,309.3 L589.68,309.82 L591.1,310.34 L592.53,310.89 L593.96,311.44 L595.38,312.01 L596.81,312.59 L598.24,313.19 L599.67,313.8 L601.09,314.42 L602.52,315.06 L603.95,315.71 L605.37,316.37 L606.8,317.04 L608.23,317.72 L609.66,318.42 L611.08,319.12 L612.51,319.84 L613.94,320.57 L615.37,321.31 L616.79,322.06 L618.22,322.81 L619.65,323.58 L621.07,324.36 L622.5,325.15 L623.93,325.95 L625.36,326.76 L626.78,327.57 L628.21,328.4 L629.64,329.23 L631.06,330.07 L632.49,330.92 L633.92,331.78 L635.35,332.64 L636.77,333.52 L638.2,334.4 L639.63,335.29 L641.05,336.18 L642.48,337.08 L643.91,337.99 L645.34,338.91 L646.76,339.83 L648.19,340.75 L649.62,341.69 L651.05,342.63 L652.47,343.57 L653.9,344.53 L655.33,345.48 L656.75,346.44 L658.18,347.41 L659.61,348.38 L661.04,349.36 L662.46,350.34 L663.89,351.33 L665.32,352.32 L666.74,353.32 L668.17,354.32 L669.6,355.32 L671.03,356.33 L672.45,357.35 L673.88,358.36 L675.31,359.38 L676.73,360.41 L678.16,361.44 L679.59,362.47 L681.02,363.5 L682.44,364.54 L683.87,365.58 L685.3,366.63 L686.73,367.68 L688.15,368.73 L689.58,369.78 L691.01,370.84 L692.43,371.9 L693.86,372.96 L695.29,374.03 L696.72,375.1 L698.14,376.17 L699.57,377.24 L701,378.32 L702.42,379.4 L703.85,380.48 L705.28,381.56 L706.71,382.65 L708.13,383.74 L709.56,384.83 L710.99,385.92 L712.41,387.02 L713.84,388.12 L715.27,389.22 L716.7,390.32 L718.12,391.42 L719.55,392.53 L720.98,393.64 L722.41,394.75 L723.83,395.87 L725.26,396.98 L726.69,398.1 L728.11,399.22 L729.54,400.35 L730.97,401.47 L732.4,402.6 L733.82,403.73 L735.25,404.86 L736.68,406 L738.1,407.14 L739.53,408.28 L740.96,409.42 L742.39,410.56 L743.81,411.71 L745.24,412.86 L746.67,414.02 L748.09,415.17 L749.52,416.33 L750.95,417.49 L752.38,418.66 L753.8,419.83 L755.23,421 L756.66,422.17 L758.08,423.35 L759.51,424.53 L760.94,425.71 L762.37,426.9 L763.79,428.09 L765.22,429.28 L766.65,430.48 L768.08,431.68 L769.5,432.89 L770.93,434.1 L772.36,435.31 L773.78,436.53 L775.21,437.75 L776.64,438.97 L778.07,440.2 L779.49,441.44 L780.92,442.68 L782.35,443.92 L783.77,445.17 L785.2,446.42 L786.63,447.68 L788.06,448.95 L789.48,450.22 L790.91,451.49 L792.34,452.77 L793.76,454.06 L795.19,455.35 L796.62,456.64 L798.05,457.95 L799.47,459.26 L800.9,460.57 L802.33,461.89 L803.76,463.22 L805.18,464.56 L806.61,465.9 L808.04,467.25 L809.46,468.61 L810.89,469.97 L812.32,471.34 L813.75,472.72 L815.17,474.11 L816.6,475.5" fill="none" stroke="#0000ff" stroke-width="1.2" stroke-dasharray="4.2 1.9 1 1.9" stroke-linejoin="round"/>
<path d="M767.6,295.5H785.7" stroke="#0000ff" stroke-width="1.2"  fill="none"/>
<text font-family='"Liberation Serif", serif' font-size="7.3" y="296.6"><tspan x="787.1">K</tspan><tspan x="791.8" dy="3.6" font-size="7" font-weight="bold">υ</tspan><tspan x="802.6" dy="-3.6">0</tspan></text>
<path d="M797.3,293.5h3.5M797.3,295.5h3.5" stroke="#222" stroke-width="0.8" fill="none"/>
<path d="M767.6,308.5H785.7" stroke="#0000ff" stroke-width="1.2" stroke-dasharray="4.2 1.9" stroke-dashoffset="4.2" fill="none"/>
<text font-family='"Liberation Serif", serif' font-size="7.3" y="309.4"><tspan x="787.1">K</tspan><tspan x="791.8" dy="3.6" font-size="7" font-weight="bold">υ</tspan><tspan x="802.6" dy="-3.6">1</tspan></text>
<path d="M797.3,306.5h3.5M797.3,308.5h3.5" stroke="#222" stroke-width="0.8" fill="none"/>
<path d="M767.6,320.5H785.7" stroke="#0000ff" stroke-width="1.2" stroke-dasharray="1 1.3" fill="none"/>
<text font-family='"Liberation Serif", serif' font-size="7.3" y="322.2"><tspan x="787.1">K</tspan><tspan x="791.8" dy="3.6" font-size="7" font-weight="bold">υ</tspan><tspan x="802.6" dy="-3.6">5</tspan></text>
<path d="M797.3,319.5h3.5M797.3,321.5h3.5" stroke="#222" stroke-width="0.8" fill="none"/>
<path d="M767.6,333.5H785.7" stroke="#0000ff" stroke-width="1.2" stroke-dasharray="4.2 1.9 1 1.9" fill="none"/>
<text font-family='"Liberation Serif", serif' font-size="7.3" y="335"><tspan x="787.1">K</tspan><tspan x="791.8" dy="3.6" font-size="7" font-weight="bold">υ</tspan><tspan x="802.6" dy="-3.6">10</tspan></text>
<path d="M797.3,332.5h3.5M797.3,334.5h3.5" stroke="#222" stroke-width="0.8" fill="none"/>
<text x="667.85" y="540.8" font-family='"Liberation Serif", serif' font-size="23" font-weight="normal" text-anchor="middle" >(d)</text>
<rect x="273.4" y="566.4" width="329.2" height="219.7" fill="none" stroke="#777" stroke-width="1"/>
<path d="M273.4,786.1v-3.5M273.4,566.4v3.5M328.27,786.1v-3.5M328.27,566.4v3.5M383.13,786.1v-3.5M383.13,566.4v3.5M438,786.1v-3.5M438,566.4v3.5M492.87,786.1v-3.5M492.87,566.4v3.5M547.73,786.1v-3.5M547.73,566.4v3.5M602.6,786.1v-3.5M602.6,566.4v3.5M273.4,582.45h3.5M602.6,582.45h-3.5M273.4,601.21h3.5M602.6,601.21h-3.5M273.4,619.97h3.5M602.6,619.97h-3.5M273.4,638.73h3.5M602.6,638.73h-3.5M273.4,657.49h3.5M602.6,657.49h-3.5M273.4,676.25h3.5M602.6,676.25h-3.5M273.4,695.01h3.5M602.6,695.01h-3.5M273.4,713.77h3.5M602.6,713.77h-3.5M273.4,732.53h3.5M602.6,732.53h-3.5M273.4,751.29h3.5M602.6,751.29h-3.5M273.4,770.05h3.5M602.6,770.05h-3.5" stroke="#555" stroke-width="0.9" fill="none"/>
<text x="272.9" y="794.3" font-family='"Liberation Serif", serif' font-size="7.3" font-weight="bold" text-anchor="middle" >1</text>
<text x="327.77" y="794.3" font-family='"Liberation Serif", serif' font-size="7.3" font-weight="bold" text-anchor="middle" >1.5</text>
<text x="382.63" y="794.3" font-family='"Liberation Serif", serif' font-size="7.3" font-weight="bold" text-anchor="middle" >2</text>
<text x="437.5" y="794.3" font-family='"Liberation Serif", serif' font-size="7.3" font-weight="bold" text-anchor="middle" >2.5</text>
<text x="492.37" y="794.3" font-family='"Liberation Serif", serif' font-size="7.3" font-weight="bold" text-anchor="middle" >3</text>
<text x="547.23" y="794.3" font-family='"Liberation Serif", serif' font-size="7.3" font-weight="bold" text-anchor="middle" >3.5</text>
<text x="602.1" y="794.3" font-family='"Liberation Serif", serif' font-size="7.3" font-weight="bold" text-anchor="middle" >4</text>
<text x="270.4" y="585.55" font-family='"Liberation Serif", serif' font-size="7.3" font-weight="bold" text-anchor="end" >1</text>
<text x="270.4" y="604.31" font-family='"Liberation Serif", serif' font-size="7.3" font-weight="bold" text-anchor="end" >0.9</text>
<text x="270.4" y="623.07" font-family='"Liberation Serif", serif' font-size="7.3" font-weight="bold" text-anchor="end" >0.8</text>
<text x="270.4" y="641.83" font-family='"Liberation Serif", serif' font-size="7.3" font-weight="bold" text-anchor="end" >0.7</text>
<text x="270.4" y="660.59" font-family='"Liberation Serif", serif' font-size="7.3" font-weight="bold" text-anchor="end" >0.6</text>
<text x="270.4" y="679.35" font-family='"Liberation Serif", serif' font-size="7.3" font-weight="bold" text-anchor="end" >0.5</text>
<text x="270.4" y="698.11" font-family='"Liberation Serif", serif' font-size="7.3" font-weight="bold" text-anchor="end" >0.4</text>
<text x="270.4" y="716.87" font-family='"Liberation Serif", serif' font-size="7.3" font-weight="bold" text-anchor="end" >0.3</text>
<text x="270.4" y="735.63" font-family='"Liberation Serif", serif' font-size="7.3" font-weight="bold" text-anchor="end" >0.2</text>
<text x="270.4" y="754.39" font-family='"Liberation Serif", serif' font-size="7.3" font-weight="bold" text-anchor="end" >0.1</text>
<text x="270.4" y="773.15" font-family='"Liberation Serif", serif' font-size="7.3" font-weight="bold" text-anchor="end" >0</text>
<text x="437" y="803" font-family='"Liberation Serif", serif' font-size="7.7" font-weight="bold" text-anchor="middle" >Non-dimensional radial coordinate (ρ)</text>
<text transform="translate(255.6,676.6) rotate(-90)" font-family='"Liberation Serif", serif' font-size="7.98" font-weight="bold" text-anchor="middle">Non-dimensional magnetic potential (Ψ<tspan font-size="5.2" dy="1.8">I</tspan><tspan dy="-1.8">)</tspan></text>
<path d="M273.4,582.45 L275.05,584.48 L276.71,586.47 L278.36,588.44 L280.02,590.38 L281.67,592.29 L283.33,594.18 L284.98,596.03 L286.63,597.87 L288.29,599.68 L289.94,601.46 L291.6,603.23 L293.25,604.97 L294.91,606.68 L296.56,608.38 L298.21,610.06 L299.87,611.71 L301.52,613.35 L303.18,614.96 L304.83,616.56 L306.49,618.14 L308.14,619.7 L309.79,621.24 L311.45,622.76 L313.1,624.27 L314.76,625.76 L316.41,627.23 L318.07,628.69 L319.72,630.14 L321.37,631.56 L323.03,632.98 L324.68,634.38 L326.34,635.76 L327.99,637.13 L329.65,638.49 L331.3,639.83 L332.95,641.16 L334.61,642.48 L336.26,643.78 L337.92,645.07 L339.57,646.35 L341.23,647.62 L342.88,648.88 L344.53,650.12 L346.19,651.35 L347.84,652.58 L349.5,653.79 L351.15,654.99 L352.81,656.18 L354.46,657.36 L356.11,658.53 L357.77,659.69 L359.42,660.83 L361.08,661.97 L362.73,663.1 L364.38,664.22 L366.04,665.34 L367.69,666.44 L369.35,667.53 L371,668.62 L372.66,669.69 L374.31,670.76 L375.96,671.82 L377.62,672.87 L379.27,673.91 L380.93,674.95 L382.58,675.98 L384.24,677 L385.89,678.01 L387.54,679.01 L389.2,680.01 L390.85,681 L392.51,681.98 L394.16,682.96 L395.82,683.92 L397.47,684.89 L399.12,685.84 L400.78,686.79 L402.43,687.73 L404.09,688.66 L405.74,689.59 L407.4,690.51 L409.05,691.43 L410.7,692.34 L412.36,693.24 L414.01,694.14 L415.67,695.03 L417.32,695.92 L418.98,696.8 L420.63,697.67 L422.28,698.54 L423.94,699.4 L425.59,700.26 L427.25,701.11 L428.9,701.96 L430.56,702.8 L432.21,703.64 L433.86,704.47 L435.52,705.29 L437.17,706.12 L438.83,706.93 L440.48,707.74 L442.14,708.55 L443.79,709.35 L445.44,710.15 L447.1,710.94 L448.75,711.73 L450.41,712.51 L452.06,713.29 L453.72,714.06 L455.37,714.83 L457.02,715.6 L458.68,716.36 L460.33,717.11 L461.99,717.87 L463.64,718.61 L465.3,719.36 L466.95,720.1 L468.6,720.83 L470.26,721.57 L471.91,722.29 L473.57,723.02 L475.22,723.74 L476.88,724.45 L478.53,725.17 L480.18,725.87 L481.84,726.58 L483.49,727.28 L485.15,727.98 L486.8,728.67 L488.46,729.36 L490.11,730.05 L491.76,730.73 L493.42,731.41 L495.07,732.09 L496.73,732.76 L498.38,733.43 L500.04,734.1 L501.69,734.76 L503.34,735.42 L505,736.08 L506.65,736.73 L508.31,737.38 L509.96,738.03 L511.62,738.68 L513.27,739.32 L514.92,739.95 L516.58,740.59 L518.23,741.22 L519.89,741.85 L521.54,742.48 L523.19,743.1 L524.85,743.72 L526.5,744.34 L528.16,744.95 L529.81,745.56 L531.47,746.17 L533.12,746.78 L534.77,747.38 L536.43,747.98 L538.08,748.58 L539.74,749.18 L541.39,749.77 L543.05,750.36 L544.7,750.95 L546.35,751.53 L548.01,752.12 L549.66,752.7 L551.32,753.28 L552.97,753.85 L554.63,754.42 L556.28,754.99 L557.93,755.56 L559.59,756.13 L561.24,756.69 L562.9,757.25 L564.55,757.81 L566.21,758.37 L567.86,758.92 L569.51,759.47 L571.17,760.02 L572.82,760.57 L574.48,761.11 L576.13,761.66 L577.79,762.2 L579.44,762.73 L581.09,763.27 L582.75,763.8 L584.4,764.34 L586.06,764.87 L587.71,765.39 L589.37,765.92 L591.02,766.44 L592.67,766.96 L594.33,767.48 L595.98,768 L597.64,768.52 L599.29,769.03 L600.95,769.54 L602.6,770.05" fill="none" stroke="#0000ff" stroke-width="1.05" stroke-dasharray="1 1.3" stroke-linejoin="round"/>
<path d="M273.4,582.45 L275.05,584.48 L276.71,586.47 L278.36,588.44 L280.02,590.38 L281.67,592.29 L283.33,594.18 L284.98,596.03 L286.63,597.87 L288.29,599.68 L289.94,601.46 L291.6,603.23 L293.25,604.97 L294.91,606.68 L296.56,608.38 L298.21,610.06 L299.87,611.71 L301.52,613.35 L303.18,614.96 L304.83,616.56 L306.49,618.14 L308.14,619.7 L309.79,621.24 L311.45,622.76 L313.1,624.27 L314.76,625.76 L316.41,627.23 L318.07,628.69 L319.72,630.14 L321.37,631.56 L323.03,632.98 L324.68,634.38 L326.34,635.76 L327.99,637.13 L329.65,638.49 L331.3,639.83 L332.95,641.16 L334.61,642.48 L336.26,643.78 L337.92,645.07 L339.57,646.35 L341.23,647.62 L342.88,648.88 L344.53,650.12 L346.19,651.35 L347.84,652.58 L349.5,653.79 L351.15,654.99 L352.81,656.18 L354.46,657.36 L356.11,658.53 L357.77,659.69 L359.42,660.83 L361.08,661.97 L362.73,663.1 L364.38,664.22 L366.04,665.34 L367.69,666.44 L369.35,667.53 L371,668.62 L372.66,669.69 L374.31,670.76 L375.96,671.82 L377.62,672.87 L379.27,673.91 L380.93,674.95 L382.58,675.98 L384.24,677 L385.89,678.01 L387.54,679.01 L389.2,680.01 L390.85,681 L392.51,681.98 L394.16,682.96 L395.82,683.92 L397.47,684.89 L399.12,685.84 L400.78,686.79 L402.43,687.73 L404.09,688.66 L405.74,689.59 L407.4,690.51 L409.05,691.43 L410.7,692.34 L412.36,693.24 L414.01,694.14 L415.67,695.03 L417.32,695.92 L418.98,696.8 L420.63,697.67 L422.28,698.54 L423.94,699.4 L425.59,700.26 L427.25,701.11 L428.9,701.96 L430.56,702.8 L432.21,703.64 L433.86,704.47 L435.52,705.29 L437.17,706.12 L438.83,706.93 L440.48,707.74 L442.14,708.55 L443.79,709.35 L445.44,710.15 L447.1,710.94 L448.75,711.73 L450.41,712.51 L452.06,713.29 L453.72,714.06 L455.37,714.83 L457.02,715.6 L458.68,716.36 L460.33,717.11 L461.99,717.87 L463.64,718.61 L465.3,719.36 L466.95,720.1 L468.6,720.83 L470.26,721.57 L471.91,722.29 L473.57,723.02 L475.22,723.74 L476.88,724.45 L478.53,725.17 L480.18,725.87 L481.84,726.58 L483.49,727.28 L485.15,727.98 L486.8,728.67 L488.46,729.36 L490.11,730.05 L491.76,730.73 L493.42,731.41 L495.07,732.09 L496.73,732.76 L498.38,733.43 L500.04,734.1 L501.69,734.76 L503.34,735.42 L505,736.08 L506.65,736.73 L508.31,737.38 L509.96,738.03 L511.62,738.68 L513.27,739.32 L514.92,739.95 L516.58,740.59 L518.23,741.22 L519.89,741.85 L521.54,742.48 L523.19,743.1 L524.85,743.72 L526.5,744.34 L528.16,744.95 L529.81,745.56 L531.47,746.17 L533.12,746.78 L534.77,747.38 L536.43,747.98 L538.08,748.58 L539.74,749.18 L541.39,749.77 L543.05,750.36 L544.7,750.95 L546.35,751.53 L548.01,752.12 L549.66,752.7 L551.32,753.28 L552.97,753.85 L554.63,754.42 L556.28,754.99 L557.93,755.56 L559.59,756.13 L561.24,756.69 L562.9,757.25 L564.55,757.81 L566.21,758.37 L567.86,758.92 L569.51,759.47 L571.17,760.02 L572.82,760.57 L574.48,761.11 L576.13,761.66 L577.79,762.2 L579.44,762.73 L581.09,763.27 L582.75,763.8 L584.4,764.34 L586.06,764.87 L587.71,765.39 L589.37,765.92 L591.02,766.44 L592.67,766.96 L594.33,767.48 L595.98,768 L597.64,768.52 L599.29,769.03 L600.95,769.54 L602.6,770.05" fill="none" stroke="#0000ff" stroke-width="1.05" stroke-dasharray="4.2 1.9 1 1.9" stroke-linejoin="round"/>
<path d="M273.4,582.45 L275.05,584.48 L276.71,586.47 L278.36,588.44 L280.02,590.38 L281.67,592.29 L283.33,594.18 L284.98,596.03 L286.63,597.87 L288.29,599.68 L289.94,601.46 L291.6,603.23 L293.25,604.97 L294.91,606.68 L296.56,608.38 L298.21,610.06 L299.87,611.71 L301.52,613.35 L303.18,614.96 L304.83,616.56 L306.49,618.14 L308.14,619.7 L309.79,621.24 L311.45,622.76 L313.1,624.27 L314.76,625.76 L316.41,627.23 L318.07,628.69 L319.72,630.14 L321.37,631.56 L323.03,632.98 L324.68,634.38 L326.34,635.76 L327.99,637.13 L329.65,638.49 L331.3,639.83 L332.95,641.16 L334.61,642.48 L336.26,643.78 L337.92,645.07 L339.57,646.35 L341.23,647.62 L342.88,648.88 L344.53,650.12 L346.19,651.35 L347.84,652.58 L349.5,653.79 L351.15,654.99 L352.81,656.18 L354.46,657.36 L356.11,658.53 L357.77,659.69 L359.42,660.83 L361.08,661.97 L362.73,663.1 L364.38,664.22 L366.04,665.34 L367.69,666.44 L369.35,667.53 L371,668.62 L372.66,669.69 L374.31,670.76 L375.96,671.82 L377.62,672.87 L379.27,673.91 L380.93,674.95 L382.58,675.98 L384.24,677 L385.89,678.01 L387.54,679.01 L389.2,680.01 L390.85,681 L392.51,681.98 L394.16,682.96 L395.82,683.92 L397.47,684.89 L399.12,685.84 L400.78,686.79 L402.43,687.73 L404.09,688.66 L405.74,689.59 L407.4,690.51 L409.05,691.43 L410.7,692.34 L412.36,693.24 L414.01,694.14 L415.67,695.03 L417.32,695.92 L418.98,696.8 L420.63,697.67 L422.28,698.54 L423.94,699.4 L425.59,700.26 L427.25,701.11 L428.9,701.96 L430.56,702.8 L432.21,703.64 L433.86,704.47 L435.52,705.29 L437.17,706.12 L438.83,706.93 L440.48,707.74 L442.14,708.55 L443.79,709.35 L445.44,710.15 L447.1,710.94 L448.75,711.73 L450.41,712.51 L452.06,713.29 L453.72,714.06 L455.37,714.83 L457.02,715.6 L458.68,716.36 L460.33,717.11 L461.99,717.87 L463.64,718.61 L465.3,719.36 L466.95,720.1 L468.6,720.83 L470.26,721.57 L471.91,722.29 L473.57,723.02 L475.22,723.74 L476.88,724.45 L478.53,725.17 L480.18,725.87 L481.84,726.58 L483.49,727.28 L485.15,727.98 L486.8,728.67 L488.46,729.36 L490.11,730.05 L491.76,730.73 L493.42,731.41 L495.07,732.09 L496.73,732.76 L498.38,733.43 L500.04,734.1 L501.69,734.76 L503.34,735.42 L505,736.08 L506.65,736.73 L508.31,737.38 L509.96,738.03 L511.62,738.68 L513.27,739.32 L514.92,739.95 L516.58,740.59 L518.23,741.22 L519.89,741.85 L521.54,742.48 L523.19,743.1 L524.85,743.72 L526.5,744.34 L528.16,744.95 L529.81,745.56 L531.47,746.17 L533.12,746.78 L534.77,747.38 L536.43,747.98 L538.08,748.58 L539.74,749.18 L541.39,749.77 L543.05,750.36 L544.7,750.95 L546.35,751.53 L548.01,752.12 L549.66,752.7 L551.32,753.28 L552.97,753.85 L554.63,754.42 L556.28,754.99 L557.93,755.56 L559.59,756.13 L561.24,756.69 L562.9,757.25 L564.55,757.81 L566.21,758.37 L567.86,758.92 L569.51,759.47 L571.17,760.02 L572.82,760.57 L574.48,761.11 L576.13,761.66 L577.79,762.2 L579.44,762.73 L581.09,763.27 L582.75,763.8 L584.4,764.34 L586.06,764.87 L587.71,765.39 L589.37,765.92 L591.02,766.44 L592.67,766.96 L594.33,767.48 L595.98,768 L597.64,768.52 L599.29,769.03 L600.95,769.54 L602.6,770.05" fill="none" stroke="#0000ff" stroke-width="1.05" stroke-dasharray="4.2 1.9" stroke-linejoin="round"/>
<path d="M273.4,582.45 L275.05,584.48 L276.71,586.47 L278.36,588.44 L280.02,590.38 L281.67,592.29 L283.33,594.18 L284.98,596.03 L286.63,597.87 L288.29,599.68 L289.94,601.46 L291.6,603.23 L293.25,604.97 L294.91,606.68 L296.56,608.38 L298.21,610.06 L299.87,611.71 L301.52,613.35 L303.18,614.96 L304.83,616.56 L306.49,618.14 L308.14,619.7 L309.79,621.24 L311.45,622.76 L313.1,624.27 L314.76,625.76 L316.41,627.23 L318.07,628.69 L319.72,630.14 L321.37,631.56 L323.03,632.98 L324.68,634.38 L326.34,635.76 L327.99,637.13 L329.65,638.49 L331.3,639.83 L332.95,641.16 L334.61,642.48 L336.26,643.78 L337.92,645.07 L339.57,646.35 L341.23,647.62 L342.88,648.88 L344.53,650.12 L346.19,651.35 L347.84,652.58 L349.5,653.79 L351.15,654.99 L352.81,656.18 L354.46,657.36 L356.11,658.53 L357.77,659.69 L359.42,660.83 L361.08,661.97 L362.73,663.1 L364.38,664.22 L366.04,665.34 L367.69,666.44 L369.35,667.53 L371,668.62 L372.66,669.69 L374.31,670.76 L375.96,671.82 L377.62,672.87 L379.27,673.91 L380.93,674.95 L382.58,675.98 L384.24,677 L385.89,678.01 L387.54,679.01 L389.2,680.01 L390.85,681 L392.51,681.98 L394.16,682.96 L395.82,683.92 L397.47,684.89 L399.12,685.84 L400.78,686.79 L402.43,687.73 L404.09,688.66 L405.74,689.59 L407.4,690.51 L409.05,691.43 L410.7,692.34 L412.36,693.24 L414.01,694.14 L415.67,695.03 L417.32,695.92 L418.98,696.8 L420.63,697.67 L422.28,698.54 L423.94,699.4 L425.59,700.26 L427.25,701.11 L428.9,701.96 L430.56,702.8 L432.21,703.64 L433.86,704.47 L435.52,705.29 L437.17,706.12 L438.83,706.93 L440.48,707.74 L442.14,708.55 L443.79,709.35 L445.44,710.15 L447.1,710.94 L448.75,711.73 L450.41,712.51 L452.06,713.29 L453.72,714.06 L455.37,714.83 L457.02,715.6 L458.68,716.36 L460.33,717.11 L461.99,717.87 L463.64,718.61 L465.3,719.36 L466.95,720.1 L468.6,720.83 L470.26,721.57 L471.91,722.29 L473.57,723.02 L475.22,723.74 L476.88,724.45 L478.53,725.17 L480.18,725.87 L481.84,726.58 L483.49,727.28 L485.15,727.98 L486.8,728.67 L488.46,729.36 L490.11,730.05 L491.76,730.73 L493.42,731.41 L495.07,732.09 L496.73,732.76 L498.38,733.43 L500.04,734.1 L501.69,734.76 L503.34,735.42 L505,736.08 L506.65,736.73 L508.31,737.38 L509.96,738.03 L511.62,738.68 L513.27,739.32 L514.92,739.95 L516.58,740.59 L518.23,741.22 L519.89,741.85 L521.54,742.48 L523.19,743.1 L524.85,743.72 L526.5,744.34 L528.16,744.95 L529.81,745.56 L531.47,746.17 L533.12,746.78 L534.77,747.38 L536.43,747.98 L538.08,748.58 L539.74,749.18 L541.39,749.77 L543.05,750.36 L544.7,750.95 L546.35,751.53 L548.01,752.12 L549.66,752.7 L551.32,753.28 L552.97,753.85 L554.63,754.42 L556.28,754.99 L557.93,755.56 L559.59,756.13 L561.24,756.69 L562.9,757.25 L564.55,757.81 L566.21,758.37 L567.86,758.92 L569.51,759.47 L571.17,760.02 L572.82,760.57 L574.48,761.11 L576.13,761.66 L577.79,762.2 L579.44,762.73 L581.09,763.27 L582.75,763.8 L584.4,764.34 L586.06,764.87 L587.71,765.39 L589.37,765.92 L591.02,766.44 L592.67,766.96 L594.33,767.48 L595.98,768 L597.64,768.52 L599.29,769.03 L600.95,769.54 L602.6,770.05" fill="none" stroke="#0000ff" stroke-width="1.05"  stroke-linejoin="round"/>
<path d="M281.9,732.5H299.9" stroke="#0000ff" stroke-width="1.2"  fill="none"/>
<text font-family='"Liberation Serif", serif' font-size="7.3" y="734.2"><tspan x="301.5">K</tspan><tspan x="306.2" dy="3.6" font-size="6.2" font-weight="normal">W</tspan><tspan x="317" dy="-3.6">0</tspan></text>
<path d="M311.7,731.5h3.5M311.7,733.5h3.5" stroke="#222" stroke-width="0.8" fill="none"/>
<path d="M281.9,745.5H299.9" stroke="#0000ff" stroke-width="1.2" stroke-dasharray="4.2 1.9" stroke-dashoffset="4.2" fill="none"/>
<text font-family='"Liberation Serif", serif' font-size="7.3" y="747.27"><tspan x="301.5">K</tspan><tspan x="306.2" dy="3.6" font-size="6.2" font-weight="normal">W</tspan><tspan x="317" dy="-3.6">1</tspan></text>
<path d="M311.7,744.5h3.5M311.7,746.5h3.5" stroke="#222" stroke-width="0.8" fill="none"/>
<path d="M281.9,759.5H299.9" stroke="#0000ff" stroke-width="1.2" stroke-dasharray="1 1.3" fill="none"/>
<text font-family='"Liberation Serif", serif' font-size="7.3" y="760.34"><tspan x="301.5">K</tspan><tspan x="306.2" dy="3.6" font-size="6.2" font-weight="normal">W</tspan><tspan x="317" dy="-3.6">5</tspan></text>
<path d="M311.7,757.5h3.5M311.7,759.5h3.5" stroke="#222" stroke-width="0.8" fill="none"/>
<path d="M281.9,772.5H299.9" stroke="#0000ff" stroke-width="1.2" stroke-dasharray="4.2 1.9 1 1.9" fill="none"/>
<text font-family='"Liberation Serif", serif' font-size="7.3" y="773.41"><tspan x="301.5">K</tspan><tspan x="306.2" dy="3.6" font-size="6.2" font-weight="normal">W</tspan><tspan x="317" dy="-3.6">10</tspan></text>
<path d="M311.7,770.5h3.5M311.7,772.5h3.5" stroke="#222" stroke-width="0.8" fill="none"/>
<text x="436" y="834.8" font-family='"Liberation Serif", serif' font-size="23" font-weight="normal" text-anchor="middle" >(e)</text>
<rect x="488.9" y="576.6" width="100.7" height="120.4" fill="#fff" stroke="#777" stroke-width="1"/>
<path d="M497.1,697.0v-3.5M497.1,576.6v3.5M540.5,697.0v-3.5M540.5,576.6v3.5M583.5,697.0v-3.5M583.5,576.6v3.5M488.9,588.0h3.5M589.6,588.0h-3.5M488.9,614.5h3.5M589.6,614.5h-3.5M488.9,641.1h3.5M589.6,641.1h-3.5M488.9,667.6h3.5M589.6,667.6h-3.5M488.9,694.2h3.5M589.6,694.2h-3.5" stroke="#555" stroke-width="0.9" fill="none"/>
<text x="497.1" y="705.3" font-family='"Liberation Serif", serif' font-size="7.6" font-weight="bold" text-anchor="middle" >2.245</text>
<text x="540.5" y="705.3" font-family='"Liberation Serif", serif' font-size="7.6" font-weight="bold" text-anchor="middle" >2.25</text>
<text x="583.5" y="705.3" font-family='"Liberation Serif", serif' font-size="7.6" font-weight="bold" text-anchor="middle" >2.255</text>
<text x="486.2" y="590.5" font-family='"Liberation Serif", serif' font-size="7.6" font-weight="bold" text-anchor="end" >0.418</text>
<text x="486.2" y="617" font-family='"Liberation Serif", serif' font-size="7.6" font-weight="bold" text-anchor="end" >0.417</text>
<text x="486.2" y="643.6" font-family='"Liberation Serif", serif' font-size="7.6" font-weight="bold" text-anchor="end" >0.416</text>
<text x="486.2" y="670.1" font-family='"Liberation Serif", serif' font-size="7.6" font-weight="bold" text-anchor="end" >0.415</text>
<text x="486.2" y="696.7" font-family='"Liberation Serif", serif' font-size="7.6" font-weight="bold" text-anchor="end" >0.414</text>
<clipPath id="ic"><rect x="488.9" y="576.6" width="100.7" height="120.4"/></clipPath>
<g clip-path="url(#ic)">
<path d="M488.9,626.8 L560.2,697.0" fill="none" stroke="#0000ff" stroke-width="1.2"  stroke-linejoin="round"/>
<path d="M488.9,592.4 L589.6,687.7" fill="none" stroke="#0000ff" stroke-width="1.2" stroke-dasharray="4.2 1.9" stroke-linejoin="round"/>
<path d="M488.9,579.5 L589.6,678.9" fill="none" stroke="#0000ff" stroke-width="1.2" stroke-dasharray="1 1.3" stroke-linejoin="round"/>
<path d="M488.9,579.7 L589.6,678.6" fill="none" stroke="#0000ff" stroke-width="1.2" stroke-dasharray="4.2 1.9 1 1.9" stroke-linejoin="round"/>
</g>
</svg></body></html>
